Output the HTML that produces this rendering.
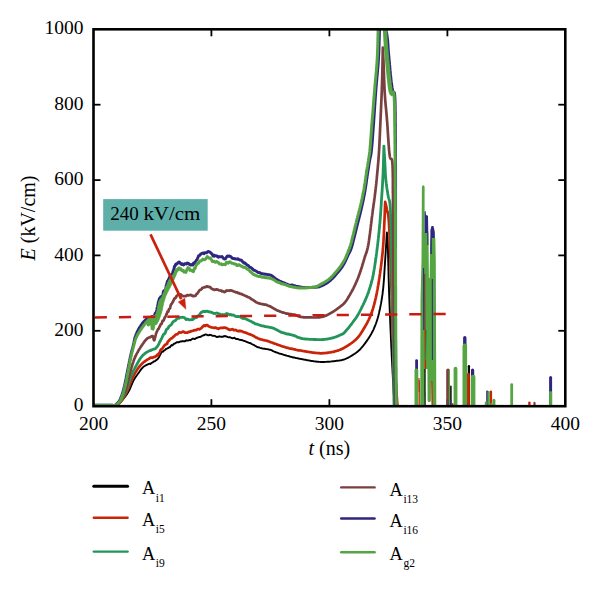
<!DOCTYPE html>
<html><head><meta charset="utf-8"><style>
html,body{margin:0;padding:0;background:#fff;}
svg{display:block;}
text{font-family:"Liberation Serif",serif;fill:#000;}
</style></head><body>
<svg width="600" height="591" viewBox="0 0 600 591">
<rect x="0" y="0" width="600" height="591" fill="#fff"/>
<defs><clipPath id="cp"><rect x="93.5" y="29.3" width="471.79999999999995" height="376.9"/></clipPath></defs>
<g stroke="#000" stroke-width="1.8"><line x1="211.4" y1="406.2" x2="211.4" y2="399.2"/><line x1="211.4" y1="29.3" x2="211.4" y2="36.3"/><line x1="329.4" y1="406.2" x2="329.4" y2="399.2"/><line x1="329.4" y1="29.3" x2="329.4" y2="36.3"/><line x1="447.4" y1="406.2" x2="447.4" y2="399.2"/><line x1="447.4" y1="29.3" x2="447.4" y2="36.3"/><line x1="93.5" y1="330.8" x2="100.5" y2="330.8"/><line x1="565.3" y1="330.8" x2="558.3" y2="330.8"/><line x1="93.5" y1="255.4" x2="100.5" y2="255.4"/><line x1="565.3" y1="255.4" x2="558.3" y2="255.4"/><line x1="93.5" y1="180.1" x2="100.5" y2="180.1"/><line x1="565.3" y1="180.1" x2="558.3" y2="180.1"/><line x1="93.5" y1="104.7" x2="100.5" y2="104.7"/><line x1="565.3" y1="104.7" x2="558.3" y2="104.7"/></g>
<g clip-path="url(#cp)">
<path d="M93.5 405.3L94.1 405.3L94.8 405.3L95.4 405.3L96.1 405.3L96.8 405.3L97.4 405.3L98.1 405.3L98.8 405.3L99.5 405.3L100.2 405.3L100.9 405.3L101.6 405.3L102.3 405.3L103.0 405.3L103.7 405.3L104.3 405.3L105.0 405.3L105.6 405.3L106.3 405.3L106.9 405.3L107.5 405.3L108.1 405.3L108.7 405.3L109.2 405.3L109.8 405.3L110.3 405.3L110.7 405.3L111.2 405.3L111.6 405.3L112.0 405.3L113.5 405.3L114.4 405.4L114.9 405.4L115.2 405.4L115.5 405.4L116.0 405.2L116.5 405.0L117.0 404.8L117.5 404.5L118.0 404.2L118.5 403.8L119.0 403.4L119.5 403.0L120.0 402.5L120.4 402.1L120.8 401.8L121.2 401.3L121.6 400.9L122.0 400.5L122.4 400.0L122.8 399.5L123.3 399.0L123.7 398.5L124.1 398.0L124.5 397.5L124.8 397.1L125.2 396.6L125.5 396.2L125.8 395.7L126.2 395.3L126.5 394.8L126.8 394.3L127.2 393.8L127.5 393.3L127.9 392.7L128.2 392.2L128.5 391.5L128.9 390.9L129.1 390.4L129.4 389.9L129.6 389.4L129.9 388.9L130.1 388.3L130.4 387.7L130.6 387.1L130.9 386.5L131.2 385.9L131.4 385.3L131.7 384.7L131.9 384.1L132.2 383.5L132.4 382.9L132.7 382.3L132.9 381.7L133.2 381.2L133.4 380.7L133.7 380.2L134.0 379.6L134.4 379.0L134.7 378.4L135.1 377.9L135.4 377.3L135.7 376.8L136.1 376.3L136.4 375.9L136.7 375.4L137.1 374.9L137.4 374.5L137.7 374.0L138.1 373.6L138.4 373.1L138.8 372.6L139.2 372.0L139.6 371.5L140.0 370.9L140.4 370.4L140.7 369.9L141.1 369.4L141.5 368.9L141.9 368.4L142.3 368.0L142.7 367.6L143.1 367.2L143.6 366.7L144.2 366.3L144.7 366.0L145.3 365.6L145.8 365.3L146.4 365.0L146.9 364.8L147.4 364.5L147.9 364.3L148.6 364.0L149.2 363.8L149.8 363.6L150.4 364.0L151.0 363.4L151.6 363.0L152.2 362.6L152.8 362.4L153.3 361.7L153.9 361.5L154.5 361.4L155.0 361.1L155.5 360.8L156.0 360.1L156.5 360.0L157.0 359.6L157.5 359.3L158.0 358.5L158.3 358.2L158.6 357.8L158.9 357.3L159.3 356.6L159.6 355.8L159.9 355.2L160.3 354.6L160.6 354.1L160.9 353.3L161.3 352.4L161.6 352.0L162.2 351.8L162.8 351.9L163.3 351.3L163.9 350.6L164.4 350.3L165.0 350.0L165.5 349.5L166.0 349.1L166.4 348.6L166.9 348.6L167.5 348.2L168.2 348.0L168.6 347.6L169.0 347.5L169.5 347.1L170.0 347.2L170.5 346.3L171.0 345.7L171.6 345.1L172.1 345.5L172.7 345.2L173.2 344.6L173.8 343.8L174.3 343.8L174.8 343.4L175.4 343.3L176.0 342.8L176.6 342.4L177.2 342.1L177.8 342.1L178.4 342.4L179.0 342.1L179.6 341.8L180.2 341.5L180.8 341.5L181.4 341.5L182.0 341.2L182.6 341.3L183.2 341.2L183.8 341.4L184.4 341.3L185.0 341.3L185.6 340.6L186.2 340.4L186.8 340.3L187.4 340.6L188.0 340.6L188.6 340.3L189.2 340.3L189.9 339.9L190.5 340.2L191.1 339.7L191.7 339.4L192.4 338.7L193.0 338.6L193.5 338.6L194.1 339.1L194.6 339.1L195.2 338.8L195.8 338.4L196.3 338.1L196.8 337.9L197.3 337.6L197.8 337.5L198.4 337.4L199.0 337.2L199.5 336.9L200.1 337.0L200.6 336.6L201.2 336.6L201.9 336.1L202.5 335.6L203.1 335.5L203.7 335.2L204.4 335.2L205.0 334.5L205.6 334.5L206.2 334.6L206.8 334.7L207.4 335.0L208.0 335.3L208.6 335.4L209.2 335.2L209.8 334.8L210.4 334.9L211.0 334.9L211.6 335.4L212.2 335.6L212.8 335.9L213.4 335.9L214.0 335.8L214.6 335.9L215.3 336.1L215.9 336.6L216.5 336.8L217.1 337.1L217.7 336.8L218.2 336.9L218.8 336.6L219.4 336.3L220.1 336.6L220.6 336.7L221.2 336.8L221.7 336.7L222.3 336.7L223.0 336.8L223.6 336.3L224.4 336.3L224.9 336.0L225.5 336.3L226.1 336.3L226.7 336.7L227.3 336.9L227.9 337.1L228.6 337.3L229.3 337.3L229.9 337.2L230.6 337.5L231.3 337.8L231.9 338.2L232.6 338.4L233.2 338.1L233.8 338.0L234.4 337.7L235.0 338.2L235.5 338.5L236.1 339.1L236.7 338.9L237.3 339.0L237.9 339.0L238.5 339.4L239.1 339.6L239.7 339.8L240.2 339.8L240.8 340.0L241.4 340.0L242.0 340.2L242.6 340.3L243.2 340.7L243.8 340.9L244.3 341.0L244.9 341.2L245.5 341.4L246.1 341.7L246.7 342.0L247.3 342.1L247.9 342.4L248.5 342.7L249.0 342.9L249.6 343.0L250.2 343.0L250.8 343.4L251.4 343.8L251.9 344.1L252.5 344.3L253.0 344.6L253.6 344.8L254.1 345.2L254.7 345.5L255.2 345.9L255.8 346.1L256.3 346.5L256.9 346.8L257.4 347.1L258.0 347.2L258.5 347.4L259.1 347.5L259.6 347.7L260.2 347.9L260.9 348.1L261.5 348.2L262.1 348.4L262.7 348.5L263.4 348.6L264.0 348.7L264.6 348.7L265.3 348.9L265.9 349.0L266.5 349.1L267.1 349.1L267.8 349.2L268.4 349.4L269.0 349.6L269.6 349.7L270.2 349.8L270.7 349.9L271.3 350.1L271.9 350.4L272.5 350.8L273.1 351.1L273.7 351.4L274.3 351.6L274.9 351.8L275.4 352.0L276.0 352.3L276.6 352.5L277.2 352.7L277.8 352.9L278.4 353.1L279.0 353.4L279.5 353.6L280.1 353.7L280.7 353.9L281.3 354.0L281.9 354.2L282.5 354.4L283.1 354.6L283.7 354.7L284.2 355.0L284.8 355.1L285.4 355.3L286.0 355.4L286.6 355.7L287.2 355.9L287.8 355.9L288.3 356.1L288.9 356.2L289.5 356.5L290.1 356.6L290.7 356.8L291.3 356.9L291.9 357.1L292.5 357.2L293.0 357.5L293.6 357.5L294.2 357.5L294.8 357.6L295.4 357.8L296.0 358.0L296.7 358.1L297.3 358.2L297.9 358.3L298.5 358.5L299.1 358.6L299.7 358.7L300.3 358.9L301.0 359.0L301.6 359.1L302.3 359.2L302.9 359.4L303.6 359.5L304.2 359.6L304.8 359.7L305.4 359.8L306.0 359.9L306.6 360.1L307.2 360.2L307.8 360.3L308.4 360.4L309.1 360.5L309.7 360.6L310.3 360.7L311.0 360.9L311.6 361.0L312.2 361.0L312.8 361.1L313.4 361.2L314.0 361.3L314.7 361.4L315.3 361.5L315.9 361.5L316.5 361.6L317.1 361.7L317.7 361.7L318.3 361.8L318.9 361.9L319.5 361.9L320.1 361.9L320.7 362.0L321.4 362.0L322.0 362.0L322.7 362.0L323.4 362.0L324.0 362.0L324.6 362.0L325.2 361.9L325.8 361.9L326.4 361.9L327.0 361.8L327.7 361.8L328.3 361.7L329.0 361.7L329.7 361.6L330.3 361.6L331.0 361.5L331.6 361.4L332.3 361.4L332.9 361.3L333.5 361.2L334.1 361.2L334.7 361.1L335.3 361.0L336.0 360.9L336.6 360.8L337.2 360.8L337.8 360.7L338.4 360.6L339.0 360.6L339.6 360.5L340.2 360.4L340.8 360.3L341.3 360.2L341.9 360.1L342.5 359.9L343.1 359.7L343.7 359.6L344.4 359.3L345.0 359.1L345.5 358.9L346.0 358.7L346.6 358.4L347.1 358.2L347.7 357.9L348.2 357.6L348.8 357.3L349.4 357.0L349.9 356.7L350.5 356.4L351.1 356.0L351.6 355.7L352.2 355.4L352.7 355.0L353.3 354.7L353.8 354.3L354.3 354.0L354.8 353.7L355.3 353.3L355.8 353.0L356.2 352.7L356.8 352.3L357.3 351.8L357.8 351.4L358.3 351.0L358.8 350.6L359.2 350.2L359.7 349.8L360.1 349.3L360.5 348.9L360.9 348.5L361.3 348.0L361.7 347.5L362.1 347.0L362.6 346.5L363.0 346.0L363.4 345.6L363.7 345.1L364.1 344.7L364.4 344.2L364.8 343.7L365.2 343.2L365.5 342.7L365.9 342.2L366.3 341.7L366.6 341.2L367.0 340.7L367.3 340.2L367.7 339.7L368.0 339.1L368.4 338.6L368.7 338.1L369.1 337.6L369.4 337.0L369.7 336.5L370.0 336.0L370.3 335.5L370.6 334.9L370.9 334.4L371.2 333.9L371.5 333.4L371.8 332.8L372.1 332.3L372.4 331.8L372.6 331.2L372.9 330.7L373.2 330.2L373.5 329.6L373.7 329.0L374.0 328.4L374.2 327.9L374.5 327.2L374.7 326.6L375.0 326.0L375.2 325.5L375.4 325.0L375.6 324.5L375.8 324.0L376.0 323.5L376.1 323.0L376.3 322.5L376.5 322.0L376.7 321.4L376.8 320.9L377.0 320.4L377.2 319.8L377.4 319.3L377.5 318.7L377.7 318.1L377.9 317.5L378.0 316.9L378.2 316.3L378.4 315.7L378.5 315.0L378.7 314.3L378.9 313.7L379.0 312.9L379.2 312.2L379.3 311.7L379.4 311.2L379.5 310.7L379.6 310.2L379.7 309.7L379.9 309.2L380.0 308.7L380.1 308.1L380.2 307.6L380.3 307.1L380.4 306.5L380.5 306.0L380.6 305.4L380.7 304.9L380.8 304.3L381.0 303.7L381.1 303.1L381.2 302.5L381.3 301.9L381.4 301.3L381.5 300.7L381.6 300.1L381.7 299.5L381.8 298.9L381.9 298.2L382.0 297.6L382.1 296.9L382.2 296.3L382.3 295.6L382.4 294.9L382.5 294.3L382.6 293.6L382.7 292.9L382.7 292.2L382.8 291.4L382.9 290.7L383.0 290.0L383.1 289.5L383.1 289.0L383.2 288.4L383.2 287.9L383.3 287.3L383.3 286.8L383.4 286.2L383.4 285.6L383.5 285.1L383.5 284.5L383.6 283.9L383.6 283.3L383.7 282.7L383.7 282.1L383.8 281.5L383.8 280.9L383.9 280.2L383.9 279.6L384.0 279.0L384.0 278.4L384.1 277.7L384.1 277.1L384.1 276.5L384.2 275.8L384.2 275.2L384.3 274.5L384.3 273.9L384.3 273.2L384.4 272.6L384.4 272.0L384.5 271.3L384.5 270.7L384.5 270.0L384.6 269.4L384.6 268.8L384.7 268.1L384.7 267.5L384.7 266.9L384.8 266.2L384.8 265.6L384.9 265.0L384.9 264.4L384.9 263.8L385.0 263.2L385.0 262.6L385.0 262.0L385.1 261.4L385.1 260.8L385.2 260.2L385.2 259.7L385.2 259.1L385.3 258.5L385.3 258.0L385.3 257.3L385.4 256.6L385.4 256.0L385.5 255.3L385.5 254.7L385.6 254.0L385.6 253.4L385.6 252.7L385.7 252.1L385.7 251.5L385.8 250.8L385.8 250.2L385.8 249.6L385.9 249.0L385.9 248.4L386.0 247.8L386.0 247.2L386.0 246.6L386.1 246.0L386.1 245.4L386.1 244.8L386.2 244.2L386.2 243.6L386.3 243.0L386.3 242.4L386.3 241.9L386.4 241.3L386.4 240.7L386.4 240.1L386.5 239.5L386.5 238.9L386.5 238.4L386.6 237.8L386.6 237.2L386.6 236.6L386.7 236.0L386.7 235.4L386.8 234.8L386.8 234.2L386.8 233.6L386.9 233.0L386.9 232.4L386.9 232.4L386.9 233.0L387.0 233.5L387.0 233.9L387.1 234.3L387.1 234.7L387.1 235.1L387.2 235.4L387.2 235.7L387.3 236.1L387.3 236.5L387.4 236.9L387.4 237.3L387.4 237.8L387.5 238.4L387.5 239.0L387.6 239.8L387.6 240.6L387.7 241.5L387.7 242.5L387.8 243.7L387.8 245.0L387.8 245.4L387.8 245.8L387.8 246.2L387.9 246.6L387.9 247.0L387.9 247.5L387.9 247.9L387.9 248.4L387.9 248.9L387.9 249.3L388.0 249.8L388.0 250.3L388.0 250.8L388.0 251.3L388.0 251.8L388.0 252.4L388.0 252.9L388.0 253.4L388.1 254.0L388.1 254.5L388.1 255.1L388.1 255.7L388.1 256.2L388.1 256.8L388.1 257.4L388.2 258.0L388.2 258.6L388.2 259.2L388.2 259.8L388.2 260.4L388.2 261.0L388.2 261.7L388.3 262.3L388.3 262.9L388.3 263.6L388.3 264.2L388.3 264.8L388.3 265.5L388.4 266.1L388.4 266.8L388.4 267.4L388.4 268.1L388.4 268.8L388.4 269.4L388.4 270.1L388.5 270.8L388.5 271.4L388.5 272.1L388.5 272.8L388.5 273.4L388.5 274.1L388.6 274.8L388.6 275.4L388.6 276.1L388.6 276.8L388.6 277.5L388.6 278.1L388.7 278.8L388.7 279.5L388.7 280.2L388.7 280.8L388.7 281.5L388.8 282.2L388.8 282.8L388.8 283.5L388.8 284.2L388.8 284.8L388.9 285.5L388.9 286.1L388.9 286.8L388.9 287.4L388.9 288.1L389.0 288.7L389.0 289.4L389.0 290.0L389.0 290.6L389.0 291.2L389.1 291.7L389.1 292.3L389.1 292.9L389.1 293.5L389.1 294.1L389.2 294.7L389.2 295.3L389.2 295.9L389.2 296.5L389.2 297.1L389.3 297.7L389.3 298.3L389.3 298.9L389.3 299.5L389.4 300.1L389.4 300.7L389.4 301.3L389.4 301.9L389.4 302.5L389.5 303.2L389.5 303.8L389.5 304.4L389.5 305.0L389.6 305.6L389.6 306.3L389.6 306.9L389.6 307.5L389.7 308.1L389.7 308.7L389.7 309.4L389.7 310.0L389.8 310.6L389.8 311.2L389.8 311.9L389.8 312.5L389.9 313.1L389.9 313.7L389.9 314.4L389.9 315.0L390.0 315.6L390.0 316.2L390.0 316.9L390.0 317.5L390.1 318.1L390.1 318.7L390.1 319.4L390.1 320.0L390.2 320.6L390.2 321.2L390.2 321.8L390.2 322.5L390.3 323.1L390.3 323.7L390.3 324.3L390.3 324.9L390.4 325.5L390.4 326.1L390.4 326.7L390.4 327.3L390.5 327.9L390.5 328.5L390.5 329.1L390.6 329.7L390.6 330.3L390.6 330.9L390.6 331.5L390.7 332.1L390.7 332.7L390.7 333.3L390.7 333.8L390.8 334.4L390.8 335.0L390.8 335.6L390.8 336.1L390.9 336.7L390.9 337.2L390.9 337.8L390.9 338.4L391.0 338.9L391.0 339.5L391.0 340.0L391.0 340.7L391.1 341.4L391.1 342.0L391.1 342.7L391.2 343.4L391.2 344.1L391.2 344.7L391.2 345.4L391.3 346.1L391.3 346.7L391.3 347.4L391.4 348.1L391.4 348.7L391.4 349.4L391.5 350.1L391.5 350.7L391.5 351.4L391.6 352.0L391.6 352.7L391.6 353.3L391.7 354.0L391.7 354.6L391.7 355.3L391.7 355.9L391.8 356.5L391.8 357.2L391.8 357.8L391.9 358.4L391.9 359.1L391.9 359.7L392.0 360.3L392.0 360.9L392.0 361.5L392.1 362.2L392.1 362.8L392.1 363.4L392.2 364.0L392.2 364.6L392.2 365.2L392.2 365.8L392.3 366.4L392.3 367.0L392.3 367.5L392.4 368.1L392.4 368.7L392.4 369.3L392.5 369.9L392.5 370.4L392.5 371.0L392.5 371.5L392.6 372.1L392.6 372.7L392.6 373.2L392.7 373.8L392.7 374.3L392.7 374.8L392.8 375.4L392.8 375.9L392.8 376.4L392.8 377.0L392.9 377.5L392.9 378.0L392.9 378.5L392.9 379.0L393.0 379.5L393.0 380.0L393.0 380.8L393.1 381.5L393.1 382.3L393.2 383.0L393.2 383.7L393.2 384.4L393.3 385.1L393.3 385.7L393.4 386.4L393.4 387.0L393.4 387.7L393.5 388.3L393.5 388.9L393.5 389.5L393.6 390.1L393.6 390.7L393.6 391.3L393.7 391.9L393.7 392.4L393.7 393.0L393.8 393.6L393.8 394.1L393.8 394.7L393.9 395.2L393.9 395.8L394.0 396.3L394.0 396.9L394.0 397.4L394.1 398.0L394.1 398.5L394.1 399.0L394.2 399.6L394.2 400.1L394.2 400.7L394.3 401.3L394.3 401.8L394.3 402.4L394.4 403.0L394.4 403.5L394.4 404.1L394.5 404.7L394.5 405.3" stroke="#000000" stroke-width="1.9" fill="none" stroke-linejoin="round"/>
<path d="M450.15 407 L450.15 386.25 A0.75 0.75 0 0 1 451.65 386.25 L451.65 407 Z" fill="#000000"/>
<path d="M467.75 407 L467.75 366.15 A1.15 1.15 0 0 1 470.05 366.15 L470.05 407 Z" fill="#000000"/>
<path d="M93.5 405.3L94.1 405.3L94.7 405.3L95.4 405.3L96.0 405.3L96.7 405.3L97.4 405.3L98.1 405.3L98.7 405.3L99.4 405.3L100.1 405.3L100.8 405.3L101.5 405.3L102.2 405.3L102.9 405.3L103.5 405.3L104.2 405.3L104.9 405.3L105.5 405.3L106.2 405.3L106.8 405.3L107.4 405.3L108.1 405.3L108.6 405.3L109.2 405.3L109.8 405.3L110.3 405.3L110.8 405.3L111.3 405.3L111.8 405.3L112.2 405.3L112.6 405.3L113.0 405.3L114.6 405.3L115.5 405.3L116.0 405.4L116.2 405.3L116.5 405.2L117.0 405.0L117.5 404.7L118.0 404.4L118.5 404.0L119.0 403.6L119.5 403.1L120.0 402.6L120.5 402.1L121.0 401.5L121.4 401.0L121.7 400.5L122.1 400.0L122.4 399.5L122.8 398.9L123.1 398.4L123.5 397.8L123.8 397.2L124.2 396.6L124.5 396.0L124.8 395.5L125.1 395.0L125.4 394.5L125.7 394.0L125.9 393.5L126.2 393.0L126.5 392.4L126.8 391.8L127.1 391.2L127.4 390.5L127.8 389.7L128.0 389.3L128.2 388.8L128.4 388.3L128.6 387.7L128.8 387.2L129.0 386.6L129.3 386.0L129.5 385.4L129.7 384.8L129.9 384.2L130.2 383.6L130.4 383.0L130.6 382.4L130.9 381.8L131.1 381.2L131.4 380.6L131.6 380.0L131.8 379.5L132.0 378.9L132.3 378.4L132.5 377.9L132.8 377.2L133.1 376.6L133.4 376.0L133.8 375.4L134.1 374.8L134.4 374.2L134.7 373.7L135.0 373.1L135.3 372.6L135.6 372.1L135.9 371.5L136.3 371.1L136.6 370.6L136.9 370.1L137.2 369.6L137.6 369.0L138.0 368.5L138.4 367.9L138.8 367.4L139.2 366.9L139.6 366.4L140.0 365.9L140.4 365.4L140.8 365.0L141.2 364.5L141.6 364.1L142.0 363.7L142.5 363.2L143.1 362.7L143.6 362.3L144.2 361.8L144.7 361.5L145.2 361.1L145.8 360.7L146.2 360.4L146.7 360.1L147.3 359.7L147.8 359.4L148.3 359.1L148.8 358.8L149.4 358.6L150.0 357.8L150.6 357.7L151.2 357.7L151.9 357.5L152.6 357.8L153.3 357.1L153.9 357.1L154.5 356.9L155.0 357.0L155.7 356.3L156.1 356.1L156.6 355.5L157.2 354.7L157.5 355.1L157.8 355.2L158.1 355.5L158.4 354.3L158.8 353.7L159.2 352.9L159.5 352.5L159.9 351.8L160.3 351.0L160.6 349.9L161.0 349.5L161.3 349.2L161.6 349.4L162.1 348.6L162.5 348.4L163.0 347.6L163.3 347.0L163.7 346.4L164.2 345.9L164.6 345.4L165.0 344.8L165.3 344.7L165.6 344.5L166.0 344.1L166.4 344.3L166.8 344.0L167.2 343.7L167.7 341.9L168.2 341.3L168.6 340.8L169.0 340.7L169.4 340.0L169.9 339.5L170.3 339.1L170.8 338.7L171.3 338.4L171.8 338.3L172.3 338.0L172.8 337.3L173.3 336.7L173.8 336.4L174.3 336.2L174.8 335.5L175.4 334.9L175.9 334.4L176.5 334.5L177.0 334.4L177.6 334.1L178.1 333.5L178.7 332.8L179.2 332.2L179.8 332.5L180.3 332.5L180.9 332.7L181.4 332.4L182.0 332.2L182.6 331.8L183.2 331.5L183.8 331.7L184.4 332.3L185.0 332.7L185.6 332.6L186.2 332.5L186.8 332.6L187.4 332.6L188.0 332.4L188.6 331.8L189.2 331.9L189.9 331.7L190.5 331.6L191.1 331.1L191.7 331.0L192.4 330.9L193.0 330.8L193.5 330.6L194.1 330.4L194.6 330.1L195.3 330.2L196.0 330.2L196.5 330.0L197.1 329.5L197.6 329.0L198.3 329.2L199.0 329.0L199.5 329.3L200.0 329.0L200.5 328.7L201.0 328.4L201.6 327.9L202.2 327.3L202.7 326.6L203.3 326.1L203.9 325.5L204.5 325.8L205.0 325.4L205.6 325.8L206.2 325.1L206.8 325.1L207.4 325.2L208.0 325.6L208.6 326.2L209.2 326.5L209.8 326.7L210.4 327.0L211.0 327.2L211.6 327.5L212.2 327.5L212.8 327.6L213.4 327.8L214.0 328.0L214.6 327.5L215.3 327.5L215.9 327.6L216.5 328.2L217.1 328.3L217.7 328.6L218.2 328.7L218.8 328.8L219.4 328.3L220.1 328.1L220.6 327.9L221.2 327.8L221.7 327.9L222.3 327.8L223.0 328.0L223.6 327.7L224.4 327.6L224.9 327.6L225.5 327.8L226.1 328.1L226.7 328.2L227.3 328.5L227.9 328.9L228.6 329.5L229.3 329.8L229.9 329.7L230.6 329.8L231.3 329.5L231.9 329.3L232.6 329.2L233.2 329.6L233.8 330.1L234.5 330.2L235.1 330.0L235.7 329.9L236.3 330.2L237.0 330.8L237.6 331.0L238.2 331.2L238.9 330.9L239.5 331.1L240.1 330.9L240.7 331.1L241.4 331.2L242.0 331.3L242.6 331.6L243.2 332.0L243.8 332.3L244.3 332.4L244.9 332.4L245.5 332.5L246.1 332.9L246.7 333.1L247.3 333.3L247.9 333.6L248.5 333.9L249.0 334.2L249.6 334.2L250.2 334.4L250.8 334.6L251.4 334.9L251.9 335.2L252.5 335.4L253.0 335.7L253.6 336.1L254.1 336.3L254.7 336.6L255.2 337.0L255.8 337.4L256.3 337.6L256.9 337.7L257.4 338.0L258.0 338.4L258.5 338.7L259.1 338.8L259.6 339.0L260.2 339.3L260.8 339.4L261.4 339.5L261.9 339.6L262.5 339.9L263.1 340.0L263.7 340.2L264.3 340.2L264.9 340.4L265.5 340.5L266.1 340.6L266.6 340.7L267.2 340.9L267.8 341.1L268.4 341.3L269.0 341.5L269.6 341.7L270.2 342.0L270.7 342.2L271.3 342.4L271.9 342.5L272.5 342.7L273.1 343.0L273.7 343.3L274.3 343.6L274.9 343.7L275.4 343.8L276.0 344.0L276.6 344.2L277.2 344.6L277.8 344.8L278.4 345.0L279.0 345.1L279.5 345.2L280.1 345.5L280.7 345.7L281.3 346.0L281.9 346.2L282.5 346.4L283.1 346.5L283.7 346.7L284.2 346.8L284.8 347.1L285.4 347.3L286.0 347.5L286.6 347.6L287.2 347.8L287.8 347.8L288.3 348.0L288.9 348.3L289.5 348.5L290.1 348.6L290.7 348.6L291.3 348.7L291.9 348.8L292.5 348.9L293.0 349.1L293.6 349.2L294.2 349.3L294.8 349.4L295.4 349.6L296.0 349.8L296.7 350.0L297.3 350.1L297.9 350.3L298.5 350.4L299.1 350.4L299.7 350.4L300.3 350.5L301.0 350.6L301.6 350.7L302.3 350.9L302.9 351.0L303.6 351.1L304.2 351.2L304.8 351.3L305.4 351.4L306.0 351.5L306.6 351.6L307.2 351.7L307.8 351.8L308.4 351.9L309.1 352.0L309.7 352.1L310.3 352.2L311.0 352.3L311.6 352.4L312.2 352.5L312.8 352.6L313.4 352.6L314.0 352.7L314.7 352.8L315.3 352.8L315.9 352.9L316.5 353.0L317.1 353.0L317.7 353.1L318.3 353.1L318.9 353.2L319.5 353.2L320.1 353.3L320.7 353.3L321.4 353.3L322.0 353.3L322.7 353.2L323.4 353.2L323.9 353.2L324.5 353.1L325.1 353.1L325.7 353.0L326.3 352.9L326.9 352.9L327.5 352.8L328.1 352.7L328.7 352.6L329.3 352.5L330.0 352.4L330.6 352.3L331.2 352.2L331.8 352.1L332.4 352.0L333.0 351.9L333.6 351.7L334.2 351.6L334.8 351.4L335.3 351.3L335.9 351.1L336.5 351.0L337.1 350.8L337.7 350.6L338.3 350.4L338.8 350.2L339.4 350.0L339.9 349.8L340.5 349.6L341.0 349.3L341.6 349.1L342.1 348.8L342.7 348.6L343.2 348.3L343.8 348.0L344.4 347.6L345.0 347.3L345.5 347.0L345.9 346.7L346.4 346.5L346.9 346.1L347.4 345.8L347.9 345.5L348.4 345.2L349.0 344.8L349.5 344.5L350.0 344.1L350.5 343.8L351.0 343.4L351.6 343.0L352.1 342.6L352.6 342.3L353.1 341.9L353.6 341.5L354.0 341.1L354.5 340.7L354.9 340.3L355.4 340.0L355.8 339.6L356.2 339.2L356.7 338.7L357.1 338.3L357.5 337.8L357.9 337.4L358.3 336.9L358.7 336.5L359.0 336.0L359.4 335.6L359.7 335.1L360.0 334.6L360.4 334.2L360.7 333.7L361.0 333.2L361.3 332.7L361.7 332.2L362.0 331.6L362.3 331.1L362.7 330.6L363.0 330.0L363.3 329.5L363.6 329.0L363.9 328.5L364.2 328.0L364.5 327.5L364.8 327.0L365.1 326.5L365.4 325.9L365.7 325.4L366.0 324.8L366.4 324.3L366.7 323.7L367.0 323.2L367.3 322.6L367.6 322.1L367.8 321.5L368.1 320.9L368.4 320.4L368.7 319.8L368.9 319.3L369.2 318.7L369.5 318.1L369.7 317.6L369.9 317.0L370.2 316.5L370.4 315.9L370.6 315.3L370.9 314.8L371.1 314.2L371.3 313.7L371.5 313.1L371.7 312.6L371.9 312.0L372.1 311.4L372.2 310.9L372.4 310.3L372.6 309.7L372.8 309.2L373.0 308.6L373.1 308.0L373.3 307.4L373.5 306.8L373.7 306.2L373.8 305.6L374.0 305.0L374.2 304.5L374.3 303.9L374.4 303.4L374.6 302.8L374.7 302.3L374.9 301.7L375.0 301.2L375.1 300.6L375.3 300.1L375.4 299.5L375.5 299.0L375.7 298.4L375.8 297.8L375.9 297.3L376.0 296.7L376.2 296.1L376.3 295.5L376.4 294.9L376.5 294.3L376.7 293.6L376.8 293.0L376.9 292.3L377.0 291.7L377.2 291.0L377.3 290.3L377.4 289.8L377.5 289.3L377.6 288.7L377.7 288.2L377.8 287.6L377.9 287.1L378.0 286.5L378.1 285.9L378.2 285.4L378.3 284.8L378.4 284.2L378.5 283.6L378.6 283.0L378.7 282.4L378.8 281.8L378.9 281.2L379.0 280.6L379.0 280.0L379.1 279.4L379.2 278.8L379.3 278.1L379.4 277.5L379.5 276.9L379.6 276.3L379.7 275.6L379.8 275.0L379.9 274.4L380.0 273.8L380.1 273.1L380.2 272.5L380.2 271.9L380.3 271.2L380.4 270.6L380.5 270.0L380.6 269.4L380.7 268.8L380.7 268.2L380.8 267.7L380.9 267.1L381.0 266.5L381.0 265.9L381.1 265.3L381.2 264.7L381.3 264.1L381.4 263.5L381.4 262.9L381.5 262.3L381.6 261.8L381.6 261.2L381.7 260.6L381.8 260.0L381.9 259.4L381.9 258.8L382.0 258.1L382.1 257.5L382.1 256.9L382.2 256.3L382.3 255.7L382.3 255.1L382.4 254.4L382.5 253.8L382.5 253.2L382.6 252.6L382.7 251.9L382.7 251.3L382.8 250.6L382.8 250.0L382.9 249.3L382.9 248.7L383.0 248.0L383.0 247.4L383.1 246.9L383.1 246.3L383.2 245.7L383.2 245.1L383.3 244.5L383.3 243.9L383.3 243.3L383.4 242.7L383.4 242.1L383.5 241.5L383.5 240.9L383.5 240.2L383.6 239.6L383.6 239.0L383.6 238.4L383.7 237.7L383.7 237.1L383.7 236.5L383.8 235.8L383.8 235.2L383.8 234.6L383.9 233.9L383.9 233.3L383.9 232.7L383.9 232.0L384.0 231.4L384.0 230.8L384.0 230.2L384.1 229.6L384.1 228.9L384.1 228.3L384.1 227.7L384.2 227.1L384.2 226.5L384.2 225.9L384.2 225.4L384.3 224.8L384.3 224.2L384.3 223.6L384.3 223.1L384.4 222.5L384.4 222.0L384.4 221.3L384.5 220.6L384.5 220.0L384.5 219.3L384.6 218.6L384.6 218.0L384.6 217.3L384.6 216.7L384.7 216.1L384.7 215.5L384.7 214.9L384.7 214.3L384.8 213.7L384.8 213.1L384.8 212.5L384.8 211.9L384.8 211.3L384.9 210.7L384.9 210.1L384.9 209.5L384.9 209.0L385.0 208.4L385.0 207.8L385.0 207.2L385.0 206.6L385.0 206.1L385.1 205.5L385.1 204.9L385.1 204.3L385.1 203.7L385.2 203.1L385.2 202.5L385.2 201.9L385.2 201.9L385.3 202.5L385.5 203.1L385.6 203.6L385.7 204.2L385.9 204.7L386.0 205.3L386.2 205.9L386.3 206.5L386.4 207.1L386.6 207.7L386.7 208.4L386.9 209.2L387.0 210.0L387.1 210.4L387.2 210.8L387.2 211.2L387.3 211.4L387.4 211.7L387.5 211.9L387.6 212.2L387.7 212.4L387.7 212.6L387.8 212.9L387.9 213.2L388.0 213.6L388.1 214.0L388.2 214.5L388.3 215.1L388.3 215.7L388.4 216.5L388.5 217.4L388.6 218.4L388.7 219.6L388.8 220.9L388.9 222.4L389.0 224.0L389.0 224.4L389.0 224.7L389.1 225.1L389.1 225.5L389.1 225.9L389.1 226.4L389.1 226.8L389.2 227.2L389.2 227.7L389.2 228.1L389.2 228.6L389.3 229.1L389.3 229.6L389.3 230.1L389.3 230.6L389.4 231.1L389.4 231.6L389.4 232.1L389.4 232.6L389.4 233.2L389.5 233.7L389.5 234.3L389.5 234.8L389.5 235.4L389.6 236.0L389.6 236.6L389.6 237.2L389.6 237.8L389.7 238.3L389.7 239.0L389.7 239.6L389.7 240.2L389.8 240.8L389.8 241.4L389.8 242.1L389.8 242.7L389.9 243.3L389.9 244.0L389.9 244.6L389.9 245.3L390.0 245.9L390.0 246.6L390.0 247.2L390.0 247.9L390.1 248.6L390.1 249.2L390.1 249.9L390.1 250.6L390.2 251.3L390.2 251.9L390.2 252.6L390.2 253.3L390.3 254.0L390.3 254.7L390.3 255.4L390.3 256.1L390.4 256.8L390.4 257.4L390.4 258.1L390.4 258.8L390.5 259.5L390.5 260.2L390.5 260.9L390.5 261.6L390.6 262.3L390.6 263.0L390.6 263.7L390.6 264.4L390.7 265.0L390.7 265.7L390.7 266.4L390.7 267.1L390.8 267.8L390.8 268.5L390.8 269.1L390.8 269.8L390.8 270.5L390.9 271.1L390.9 271.8L390.9 272.5L390.9 273.1L391.0 273.8L391.0 274.4L391.0 275.1L391.0 275.7L391.0 276.4L391.1 277.0L391.1 277.6L391.1 278.3L391.1 278.9L391.2 279.5L391.2 280.1L391.2 280.7L391.2 281.3L391.2 281.9L391.3 282.5L391.3 283.1L391.3 283.6L391.3 284.2L391.3 284.8L391.3 285.3L391.4 285.9L391.4 286.4L391.4 287.0L391.4 287.5L391.4 288.0L391.5 288.5L391.5 289.0L391.5 289.5L391.5 290.0L391.5 290.8L391.6 291.6L391.6 292.4L391.6 293.1L391.6 293.9L391.6 294.6L391.7 295.3L391.7 296.1L391.7 296.8L391.7 297.5L391.7 298.2L391.8 298.9L391.8 299.5L391.8 300.2L391.8 300.9L391.8 301.5L391.8 302.1L391.8 302.8L391.9 303.4L391.9 304.0L391.9 304.7L391.9 305.3L391.9 305.9L391.9 306.5L391.9 307.1L391.9 307.6L391.9 308.2L392.0 308.8L392.0 309.4L392.0 309.9L392.0 310.5L392.0 311.1L392.0 311.6L392.0 312.2L392.0 312.7L392.0 313.3L392.0 313.8L392.0 314.4L392.1 314.9L392.1 315.5L392.1 316.0L392.1 316.5L392.1 317.1L392.1 317.6L392.1 318.2L392.1 318.7L392.1 319.3L392.2 319.8L392.2 320.3L392.2 320.9L392.2 321.4L392.2 322.0L392.2 322.5L392.2 323.1L392.3 323.6L392.3 324.2L392.3 324.8L392.3 325.3L392.3 325.9L392.4 326.5L392.4 327.0L392.4 327.6L392.4 328.2L392.4 328.8L392.5 329.4L392.5 330.0L392.5 330.6L392.6 331.2L392.6 331.8L392.6 332.4L392.6 333.1L392.7 333.7L392.7 334.3L392.7 334.9L392.8 335.5L392.8 336.2L392.8 336.8L392.9 337.4L392.9 338.0L392.9 338.7L393.0 339.3L393.0 339.9L393.0 340.5L393.1 341.2L393.1 341.8L393.2 342.4L393.2 343.1L393.2 343.7L393.3 344.3L393.3 345.0L393.4 345.6L393.4 346.2L393.4 346.9L393.5 347.5L393.5 348.1L393.6 348.7L393.6 349.4L393.6 350.0L393.7 350.6L393.7 351.2L393.8 351.9L393.8 352.5L393.9 353.1L393.9 353.7L393.9 354.4L394.0 355.0L394.0 355.6L394.1 356.2L394.1 356.8L394.1 357.4L394.2 358.0L394.2 358.6L394.3 359.2L394.3 359.8L394.4 360.4L394.4 361.0L394.4 361.6L394.5 362.2L394.5 362.8L394.6 363.3L394.6 363.9L394.6 364.5L394.7 365.1L394.7 365.6L394.7 366.2L394.8 366.7L394.8 367.3L394.9 367.8L394.9 368.4L394.9 368.9L395.0 369.5L395.0 370.0L395.0 370.7L395.1 371.4L395.1 372.1L395.2 372.8L395.2 373.5L395.3 374.2L395.3 374.9L395.4 375.6L395.4 376.3L395.5 377.0L395.5 377.7L395.5 378.4L395.6 379.1L395.6 379.8L395.7 380.5L395.7 381.2L395.8 381.9L395.8 382.6L395.9 383.2L395.9 383.9L396.0 384.6L396.0 385.2L396.0 385.9L396.1 386.5L396.1 387.2L396.2 387.8L396.2 388.4L396.3 389.0L396.3 389.7L396.3 390.3L396.4 390.9L396.4 391.4L396.5 392.0L396.5 392.6L396.5 393.1L396.6 393.7L396.6 394.2L396.6 394.7L396.7 395.2L396.7 395.7L396.7 396.2L396.8 396.7L396.8 397.2L396.8 397.6L396.9 398.0L396.9 398.5L396.9 398.9L396.9 399.3L397.0 399.6L397.0 400.0L397.1 401.8L397.2 403.1L397.3 403.8L397.3 404.2L397.4 404.4L397.4 404.6L397.4 404.8L397.5 405.3" stroke="#c92408" stroke-width="2.7" fill="none" stroke-linejoin="round"/>
<path d="M451.70 407 L451.70 403.90 A0.90 0.90 0 0 1 453.50 403.90 L453.50 407 Z" fill="#c92408"/>
<path d="M466.90 407 L466.90 374.20 A1.50 1.50 0 0 1 469.90 374.20 L469.90 407 Z" fill="#c92408"/>
<path d="M489.70 407 L489.70 391.80 A1.20 1.20 0 0 1 492.10 391.80 L492.10 407 Z" fill="#c92408"/>
<path d="M528.20 407 L528.20 402.60 A1.20 1.20 0 0 1 530.60 402.60 L530.60 407 Z" fill="#c92408"/>
<path d="M418.55 407 L418.55 380.65 A0.65 0.65 0 0 1 419.85 380.65 L419.85 407 Z" fill="#c92408"/>
<path d="M93.5 405.3L94.1 405.3L94.8 405.3L95.4 405.3L96.1 405.3L96.7 405.3L97.4 405.3L98.1 405.3L98.8 405.3L99.5 405.3L100.2 405.3L100.9 405.3L101.5 405.3L102.2 405.3L102.9 405.3L103.6 405.3L104.3 405.3L104.9 405.3L105.6 405.3L106.2 405.3L106.9 405.3L107.5 405.3L108.1 405.3L108.7 405.3L109.2 405.3L109.8 405.3L110.3 405.3L110.8 405.3L111.3 405.3L111.7 405.3L112.1 405.3L112.5 405.3L114.0 405.3L114.9 405.4L115.4 405.4L115.7 405.4L116.0 405.3L116.5 405.0L116.9 404.7L117.4 404.4L117.9 404.0L118.3 403.5L118.8 403.0L119.2 402.5L119.7 402.0L120.1 401.5L120.5 401.0L120.9 400.5L121.2 400.0L121.6 399.5L121.9 398.9L122.2 398.4L122.5 397.8L122.8 397.2L123.2 396.6L123.5 396.0L123.8 395.5L124.0 395.0L124.3 394.6L124.6 394.1L124.8 393.7L125.1 393.2L125.4 392.6L125.6 392.0L125.9 391.3L126.3 390.6L126.6 389.7L126.8 389.3L126.9 388.8L127.1 388.3L127.3 387.7L127.5 387.2L127.7 386.6L127.9 386.0L128.0 385.4L128.2 384.7L128.4 384.1L128.6 383.5L128.9 382.8L129.1 382.1L129.3 381.5L129.5 380.8L129.7 380.2L129.9 379.5L130.1 378.9L130.3 378.3L130.5 377.7L130.7 377.1L130.9 376.5L131.1 376.0L131.3 375.5L131.6 374.8L131.9 374.2L132.1 373.5L132.4 372.9L132.7 372.3L133.0 371.7L133.2 371.2L133.5 370.6L133.8 370.1L134.1 369.6L134.3 369.1L134.6 368.6L134.9 368.0L135.2 367.5L135.4 367.0L135.7 366.5L136.0 366.0L136.3 365.4L136.6 364.8L137.0 364.2L137.3 363.6L137.6 363.0L137.9 362.5L138.2 361.9L138.6 361.3L138.9 360.8L139.2 360.2L139.5 359.7L139.8 359.2L140.2 358.7L140.5 358.2L140.8 357.8L141.2 357.2L141.7 356.7L142.1 356.2L142.5 355.7L143.0 355.3L143.4 354.8L143.8 354.4L144.2 354.1L144.7 353.7L145.1 353.3L145.5 353.0L146.1 352.6L146.7 352.2L147.3 351.9L147.8 351.5L148.4 351.3L149.0 351.0L149.5 350.7L150.0 350.4L150.6 350.5L151.3 350.0L151.9 349.9L152.4 349.5L152.9 349.4L153.4 349.2L154.2 349.1L154.8 348.9L155.5 348.6L155.9 348.0L156.3 347.7L156.7 347.0L157.2 346.8L157.6 346.1L158.0 345.4L158.3 344.8L158.6 344.7L158.8 344.0L159.1 343.5L159.4 342.6L159.7 341.9L159.9 341.9L160.2 341.3L160.5 340.7L160.8 339.9L161.1 339.2L161.4 339.0L161.7 338.3L162.0 337.9L162.2 337.2L162.5 336.4L162.8 336.0L163.1 335.2L163.5 334.5L163.8 333.9L164.1 333.9L164.5 333.7L164.8 333.6L165.1 333.0L165.5 332.2L165.8 331.3L166.1 330.3L166.4 329.7L166.8 329.1L167.1 329.0L167.6 328.7L168.2 328.1L168.5 327.5L168.8 326.6L169.2 326.3L169.6 326.0L170.0 325.8L170.4 325.2L170.8 325.0L171.3 324.6L171.7 324.2L172.2 323.2L172.6 322.3L173.1 321.9L173.5 321.5L173.9 321.2L174.4 320.9L174.8 320.8L175.4 320.5L175.9 319.9L176.5 319.3L177.0 318.6L177.6 318.2L178.1 318.2L178.7 317.9L179.2 318.2L179.8 317.6L180.3 317.5L180.9 317.3L181.4 317.3L182.0 317.3L182.6 317.2L183.2 317.3L183.8 317.5L184.4 317.7L185.0 318.5L185.6 318.8L186.2 319.6L186.8 319.0L187.4 319.2L188.0 319.1L188.6 319.6L189.2 319.8L189.9 319.8L190.5 319.7L191.1 319.5L191.7 319.8L192.4 319.7L193.0 319.5L193.5 318.7L194.1 318.4L194.6 317.9L195.2 317.6L195.7 317.7L196.1 317.7L196.6 317.5L197.0 316.7L197.5 316.4L197.9 315.9L198.4 315.6L199.0 315.1L199.5 314.7L200.0 314.2L200.5 313.2L201.0 312.7L201.6 312.1L202.2 312.0L202.7 311.8L203.3 311.3L203.9 311.1L204.5 311.5L205.0 311.5L205.6 311.6L206.2 311.2L206.8 311.1L207.4 311.4L208.0 311.4L208.6 311.9L209.2 311.7L209.8 312.0L210.4 311.9L211.0 312.2L211.6 312.5L212.2 312.4L212.8 313.1L213.4 313.1L214.0 313.5L214.7 313.3L215.3 313.5L215.9 313.1L216.5 313.2L217.1 312.9L217.7 313.5L218.3 313.5L218.8 313.9L219.5 313.8L220.2 314.3L220.9 314.7L221.5 315.0L222.1 314.7L222.8 314.4L223.4 314.8L224.0 315.2L224.6 314.9L225.1 314.5L225.7 313.8L226.2 313.8L226.7 313.5L227.3 313.8L228.0 313.8L228.8 314.5L229.3 314.7L229.8 314.9L230.3 314.5L230.9 314.3L231.4 314.9L232.0 315.1L232.6 315.1L233.3 314.9L233.9 315.3L234.5 315.7L235.1 316.2L235.8 316.3L236.4 316.7L237.0 316.4L237.6 316.5L238.2 316.6L238.8 316.5L239.4 316.7L239.9 316.6L240.5 317.1L241.1 317.0L241.7 317.8L242.3 318.0L242.9 318.5L243.5 318.5L244.1 318.4L244.6 318.2L245.2 318.3L245.8 318.8L246.4 319.3L247.0 319.6L247.5 319.9L248.1 320.0L248.6 320.2L249.2 320.6L249.7 320.9L250.2 321.0L250.8 321.2L251.3 321.5L251.9 322.0L252.5 322.2L253.0 322.6L253.6 322.7L254.1 323.1L254.7 323.4L255.2 323.8L255.8 323.9L256.4 324.1L257.0 324.1L257.5 324.3L258.1 324.5L258.7 324.8L259.3 325.0L259.9 325.2L260.5 325.4L261.1 325.6L261.7 325.8L262.2 325.8L262.8 325.9L263.4 326.0L264.0 326.2L264.6 326.4L265.3 326.7L265.9 326.7L266.5 326.8L267.1 326.8L267.8 326.9L268.4 327.1L269.0 327.1L269.7 327.3L270.3 327.4L270.9 327.6L271.5 327.7L272.2 327.9L272.8 328.0L273.3 328.2L273.9 328.4L274.4 328.7L274.9 329.0L275.5 329.2L276.0 329.5L276.5 329.7L277.1 330.0L277.6 330.3L278.1 330.7L278.7 330.9L279.2 331.2L279.8 331.5L280.4 331.9L281.0 332.1L281.6 332.4L282.2 332.5L282.7 332.7L283.3 332.8L283.9 332.9L284.6 333.1L285.2 333.4L285.8 333.7L286.5 333.9L287.1 334.0L287.7 333.9L288.4 334.0L289.0 334.2L289.6 334.5L290.3 334.6L290.9 334.7L291.5 334.8L292.0 335.1L292.6 335.2L293.3 335.4L293.9 335.5L294.5 335.7L295.1 335.9L295.7 336.2L296.3 336.6L296.9 336.9L297.4 337.1L298.0 337.3L298.6 337.5L299.1 337.7L299.7 337.9L300.3 338.1L300.8 338.2L301.4 338.4L302.0 338.5L302.6 338.7L303.2 338.8L303.7 338.9L304.3 338.9L304.8 339.0L305.4 339.0L306.0 339.1L306.6 339.1L307.2 339.2L307.8 339.2L308.5 339.2L309.2 339.3L310.0 339.3L310.5 339.3L311.1 339.4L311.6 339.4L312.2 339.4L312.8 339.4L313.4 339.5L314.0 339.5L314.7 339.5L315.3 339.5L316.0 339.5L316.6 339.6L317.3 339.6L318.0 339.6L318.6 339.6L319.3 339.6L319.9 339.6L320.5 339.6L321.1 339.6L321.7 339.6L322.3 339.6L322.9 339.5L323.4 339.5L324.1 339.4L324.8 339.4L325.5 339.3L326.1 339.2L326.7 339.1L327.4 339.0L328.0 338.9L328.5 338.8L329.1 338.7L329.7 338.6L330.2 338.5L330.8 338.3L331.3 338.2L331.9 338.1L332.4 337.9L332.9 337.8L333.6 337.6L334.2 337.4L334.9 337.2L335.5 337.0L336.1 336.8L336.7 336.5L337.3 336.3L337.9 336.1L338.4 335.8L339.0 335.6L339.5 335.3L340.0 335.1L340.6 334.8L341.1 334.6L341.6 334.5L342.0 334.3L342.5 334.1L343.0 333.8L343.5 333.4L344.2 332.7L345.0 331.9L345.3 331.6L345.6 331.3L345.9 330.9L346.2 330.5L346.6 330.1L346.9 329.7L347.3 329.2L347.7 328.8L348.1 328.3L348.5 327.8L348.9 327.3L349.3 326.8L349.7 326.3L350.1 325.7L350.5 325.2L351.0 324.7L351.4 324.1L351.8 323.6L352.2 323.0L352.6 322.5L353.0 322.0L353.4 321.4L353.8 320.9L354.2 320.4L354.6 319.9L354.9 319.4L355.3 318.9L355.6 318.5L355.9 318.0L356.2 317.6L356.6 317.0L357.0 316.4L357.4 315.8L357.7 315.2L358.0 314.7L358.4 314.2L358.7 313.6L358.9 313.1L359.2 312.6L359.5 312.1L359.7 311.6L360.0 311.1L360.2 310.6L360.5 310.1L360.7 309.6L361.0 309.1L361.2 308.6L361.5 308.1L361.7 307.5L362.0 307.0L362.3 306.5L362.5 305.9L362.8 305.4L363.1 304.8L363.3 304.3L363.6 303.8L363.8 303.2L364.1 302.7L364.4 302.1L364.6 301.6L364.9 301.0L365.1 300.5L365.4 299.9L365.6 299.4L365.8 298.8L366.1 298.3L366.3 297.7L366.5 297.1L366.8 296.6L367.0 296.0L367.2 295.5L367.4 294.9L367.6 294.3L367.8 293.8L368.0 293.2L368.3 292.7L368.5 292.1L368.7 291.5L368.8 290.9L369.0 290.4L369.2 289.8L369.4 289.2L369.6 288.6L369.8 288.1L370.0 287.5L370.2 286.9L370.3 286.3L370.5 285.7L370.7 285.2L370.8 284.6L371.0 284.0L371.2 283.4L371.3 282.9L371.5 282.3L371.6 281.8L371.7 281.3L371.9 280.8L372.0 280.3L372.1 279.8L372.3 279.2L372.4 278.7L372.5 278.2L372.6 277.6L372.8 277.1L372.9 276.5L373.0 275.9L373.1 275.3L373.3 274.6L373.4 273.9L373.5 273.2L373.7 272.4L373.8 271.6L373.9 271.1L374.0 270.7L374.0 270.2L374.1 269.7L374.2 269.2L374.3 268.6L374.4 268.1L374.5 267.6L374.6 267.0L374.6 266.4L374.7 265.9L374.8 265.3L374.9 264.7L375.0 264.1L375.1 263.5L375.2 262.9L375.3 262.3L375.4 261.7L375.5 261.1L375.5 260.5L375.6 259.8L375.7 259.2L375.8 258.6L375.9 257.9L376.0 257.3L376.1 256.7L376.2 256.0L376.3 255.4L376.3 254.7L376.4 254.1L376.5 253.5L376.6 252.8L376.7 252.2L376.8 251.5L376.9 250.9L376.9 250.3L377.0 249.6L377.1 249.0L377.2 248.4L377.2 247.8L377.3 247.2L377.4 246.7L377.5 246.1L377.5 245.5L377.6 244.9L377.7 244.3L377.8 243.7L377.8 243.0L377.9 242.4L378.0 241.8L378.0 241.2L378.1 240.6L378.2 240.0L378.2 239.4L378.3 238.8L378.4 238.1L378.4 237.5L378.5 236.9L378.6 236.3L378.7 235.7L378.7 235.0L378.8 234.4L378.8 233.8L378.9 233.2L379.0 232.6L379.0 231.9L379.1 231.3L379.2 230.7L379.2 230.1L379.3 229.5L379.3 228.9L379.4 228.2L379.5 227.6L379.5 227.0L379.6 226.4L379.6 225.8L379.7 225.2L379.7 224.6L379.8 224.0L379.9 223.4L379.9 222.8L380.0 222.2L380.0 221.6L380.1 221.0L380.1 220.4L380.2 219.8L380.2 219.2L380.3 218.6L380.3 218.0L380.3 217.4L380.4 216.8L380.4 216.2L380.5 215.6L380.5 215.0L380.6 214.4L380.6 213.8L380.6 213.2L380.7 212.6L380.7 212.0L380.8 211.4L380.8 210.8L380.8 210.2L380.9 209.6L380.9 209.0L381.0 208.4L381.0 207.8L381.0 207.2L381.1 206.6L381.1 206.0L381.2 205.4L381.2 204.8L381.2 204.2L381.3 203.6L381.3 203.0L381.3 202.4L381.4 201.8L381.4 201.2L381.5 200.6L381.5 200.0L381.5 199.4L381.6 198.8L381.6 198.2L381.7 197.6L381.7 197.0L381.7 196.4L381.8 195.8L381.8 195.2L381.9 194.7L381.9 194.1L381.9 193.5L382.0 192.9L382.0 192.3L382.1 191.7L382.1 191.1L382.1 190.5L382.2 189.9L382.2 189.3L382.2 188.7L382.3 188.1L382.3 187.5L382.4 186.9L382.4 186.3L382.4 185.7L382.5 185.1L382.5 184.5L382.5 183.9L382.6 183.2L382.6 182.6L382.6 182.0L382.7 181.4L382.7 180.8L382.7 180.1L382.8 179.5L382.8 178.9L382.8 178.2L382.9 177.6L382.9 177.0L382.9 176.3L383.0 175.7L383.0 175.0L383.0 174.4L383.0 173.9L383.1 173.3L383.1 172.7L383.1 172.2L383.1 171.6L383.2 171.0L383.2 170.4L383.2 169.8L383.2 169.2L383.2 168.6L383.3 168.0L383.3 167.5L383.3 166.9L383.3 166.3L383.3 165.7L383.4 165.1L383.4 164.4L383.4 163.8L383.4 163.2L383.4 162.6L383.5 162.0L383.5 161.4L383.5 160.8L383.5 160.2L383.5 159.6L383.5 159.0L383.6 158.3L383.6 157.7L383.6 157.1L383.6 156.5L383.6 155.9L383.6 155.3L383.7 154.6L383.7 154.0L383.7 153.4L383.7 152.8L383.7 152.2L383.7 151.6L383.8 151.0L383.8 150.4L383.8 149.7L383.8 149.1L383.8 148.5L383.8 147.9L383.9 147.3L383.9 146.7L383.9 146.1L383.9 146.1L383.9 146.7L384.0 147.3L384.0 147.9L384.0 148.6L384.1 149.2L384.1 149.8L384.2 150.5L384.2 151.1L384.2 151.7L384.3 152.4L384.3 153.0L384.3 153.6L384.4 154.3L384.4 154.9L384.5 155.5L384.5 156.2L384.5 156.8L384.6 157.4L384.6 158.0L384.6 158.6L384.7 159.3L384.7 159.9L384.7 160.5L384.8 161.1L384.8 161.6L384.8 162.2L384.9 162.8L384.9 163.4L384.9 163.9L385.0 164.5L385.0 165.0L385.0 165.7L385.1 166.4L385.1 167.1L385.1 167.7L385.2 168.4L385.2 169.0L385.2 169.6L385.2 170.2L385.3 170.8L385.3 171.4L385.3 172.0L385.3 172.6L385.4 173.2L385.4 173.7L385.4 174.3L385.5 174.9L385.5 175.5L385.5 176.1L385.6 176.7L385.6 177.3L385.7 177.9L385.7 178.6L385.8 179.2L385.9 179.8L385.9 180.4L386.0 181.0L386.1 181.6L386.1 182.2L386.2 182.8L386.3 183.5L386.4 184.1L386.5 184.8L386.5 185.4L386.6 186.1L386.7 186.7L386.8 187.3L386.9 188.0L387.0 188.6L387.1 189.3L387.2 189.9L387.3 190.5L387.4 191.1L387.5 191.7L387.6 192.3L387.7 192.9L387.7 193.4L387.8 194.0L387.9 194.5L388.0 195.0L388.1 195.7L388.3 196.4L388.4 197.0L388.5 197.5L388.7 198.0L388.8 198.5L388.9 198.9L389.1 199.4L389.2 199.8L389.3 200.3L389.5 200.8L389.6 201.4L389.7 202.0L389.8 202.7L389.9 203.5L390.0 204.3L390.1 205.3L390.1 205.7L390.2 206.2L390.2 206.6L390.2 207.1L390.3 207.6L390.3 208.1L390.3 208.6L390.4 209.1L390.4 209.7L390.4 210.2L390.4 210.8L390.5 211.3L390.5 211.9L390.5 212.5L390.5 213.1L390.5 213.7L390.6 214.3L390.6 214.9L390.6 215.5L390.6 216.1L390.6 216.7L390.7 217.4L390.7 218.0L390.7 218.7L390.7 219.3L390.7 220.0L390.8 220.6L390.8 221.3L390.8 222.0L390.8 222.6L390.8 223.3L390.8 224.0L390.9 224.6L390.9 225.3L390.9 226.0L390.9 226.7L390.9 227.3L390.9 228.0L391.0 228.7L391.0 229.3L391.0 230.0L391.0 230.5L391.0 231.1L391.0 231.6L391.1 232.1L391.1 232.6L391.1 233.1L391.1 233.6L391.1 234.1L391.1 234.6L391.1 235.1L391.2 235.6L391.2 236.0L391.2 236.5L391.2 237.0L391.2 237.4L391.2 237.9L391.2 238.4L391.2 238.8L391.3 239.3L391.3 239.8L391.3 240.3L391.3 240.8L391.3 241.3L391.3 241.8L391.3 242.3L391.3 242.8L391.4 243.4L391.4 243.9L391.4 244.5L391.4 245.1L391.4 245.7L391.4 246.3L391.4 246.9L391.4 247.5L391.5 248.2L391.5 248.9L391.5 249.6L391.5 250.3L391.5 251.0L391.5 251.8L391.6 252.6L391.6 253.4L391.6 254.2L391.6 255.1L391.6 256.0L391.6 256.9L391.7 257.8L391.7 258.8L391.7 259.8L391.7 260.2L391.7 260.7L391.7 261.1L391.7 261.6L391.7 262.0L391.8 262.5L391.8 262.9L391.8 263.4L391.8 263.9L391.8 264.3L391.8 264.8L391.8 265.3L391.8 265.8L391.8 266.3L391.8 266.8L391.8 267.3L391.9 267.8L391.9 268.3L391.9 268.8L391.9 269.4L391.9 269.9L391.9 270.4L391.9 271.0L391.9 271.5L391.9 272.0L392.0 272.6L392.0 273.1L392.0 273.7L392.0 274.2L392.0 274.8L392.0 275.4L392.0 275.9L392.0 276.5L392.0 277.1L392.1 277.7L392.1 278.3L392.1 278.8L392.1 279.4L392.1 280.0L392.1 280.6L392.1 281.2L392.1 281.8L392.1 282.4L392.2 283.0L392.2 283.6L392.2 284.2L392.2 284.8L392.2 285.5L392.2 286.1L392.2 286.7L392.2 287.3L392.3 287.9L392.3 288.6L392.3 289.2L392.3 289.8L392.3 290.5L392.3 291.1L392.3 291.7L392.3 292.4L392.3 293.0L392.4 293.7L392.4 294.3L392.4 294.9L392.4 295.6L392.4 296.2L392.4 296.9L392.4 297.5L392.4 298.2L392.5 298.8L392.5 299.5L392.5 300.1L392.5 300.8L392.5 301.4L392.5 302.1L392.5 302.8L392.5 303.4L392.6 304.1L392.6 304.7L392.6 305.4L392.6 306.0L392.6 306.7L392.6 307.4L392.6 308.0L392.6 308.7L392.6 309.3L392.7 310.0L392.7 310.7L392.7 311.3L392.7 312.0L392.7 312.6L392.7 313.3L392.7 313.9L392.7 314.6L392.8 315.2L392.8 315.9L392.8 316.6L392.8 317.2L392.8 317.9L392.8 318.5L392.8 319.2L392.8 319.8L392.8 320.5L392.9 321.1L392.9 321.8L392.9 322.4L392.9 323.0L392.9 323.7L392.9 324.3L392.9 325.0L392.9 325.6L392.9 326.2L392.9 326.9L393.0 327.5L393.0 328.1L393.0 328.8L393.0 329.4L393.0 330.0L393.0 330.6L393.0 331.2L393.0 331.7L393.0 332.3L393.0 332.9L393.1 333.5L393.1 334.1L393.1 334.7L393.1 335.3L393.1 335.9L393.1 336.4L393.1 337.0L393.1 337.6L393.1 338.2L393.1 338.8L393.1 339.4L393.2 340.0L393.2 340.6L393.2 341.2L393.2 341.8L393.2 342.4L393.2 342.9L393.2 343.5L393.2 344.1L393.2 344.7L393.2 345.3L393.2 345.9L393.2 346.5L393.3 347.1L393.3 347.7L393.3 348.3L393.3 348.9L393.3 349.5L393.3 350.1L393.3 350.7L393.3 351.3L393.3 351.9L393.3 352.5L393.3 353.1L393.3 353.7L393.4 354.3L393.4 354.9L393.4 355.5L393.4 356.1L393.4 356.7L393.4 357.3L393.4 357.9L393.4 358.5L393.4 359.1L393.4 359.8L393.4 360.4L393.4 361.0L393.4 361.6L393.5 362.2L393.5 362.8L393.5 363.4L393.5 364.0L393.5 364.6L393.5 365.2L393.5 365.8L393.5 366.4L393.5 367.0L393.5 367.6L393.5 368.2L393.5 368.9L393.5 369.5L393.6 370.1L393.6 370.7L393.6 371.3L393.6 371.9L393.6 372.5L393.6 373.1L393.6 373.7L393.6 374.3L393.6 374.9L393.6 375.5L393.6 376.2L393.6 376.8L393.6 377.4L393.7 378.0L393.7 378.6L393.7 379.2L393.7 379.8L393.7 380.4L393.7 381.0L393.7 381.6L393.7 382.2L393.7 382.9L393.7 383.5L393.7 384.1L393.7 384.7L393.7 385.3L393.8 385.9L393.8 386.5L393.8 387.1L393.8 387.7L393.8 388.3L393.8 388.9L393.8 389.6L393.8 390.2L393.8 390.8L393.8 391.4L393.8 392.0L393.8 392.6L393.8 393.2L393.9 393.8L393.9 394.4L393.9 395.0L393.9 395.6L393.9 396.2L393.9 396.8L393.9 397.4L393.9 398.0L393.9 398.7L393.9 399.3L393.9 399.9L393.9 400.5L393.9 401.1L394.0 401.7L394.0 402.3L394.0 402.9L394.0 403.5L394.0 404.1L394.0 404.7L394.0 405.3" stroke="#21955a" stroke-width="2.8" fill="none" stroke-linejoin="round"/>
<path d="M93.5 405.3L94.1 405.3L94.8 405.3L95.4 405.3L96.1 405.3L96.7 405.3L97.4 405.3L98.1 405.3L98.8 405.3L99.5 405.3L100.2 405.3L100.9 405.3L101.6 405.3L102.3 405.3L102.9 405.3L103.6 405.3L104.3 405.4L105.0 405.4L105.6 405.4L106.2 405.4L106.9 405.4L107.5 405.4L108.1 405.4L108.6 405.4L109.2 405.4L109.7 405.3L110.2 405.3L110.7 405.3L111.2 405.3L111.6 405.3L112.0 405.3L113.4 405.3L114.3 405.3L114.9 405.2L115.3 405.2L115.7 405.1L116.0 404.8L116.5 404.5L116.9 404.2L117.4 403.8L117.8 403.3L118.2 402.8L118.7 402.3L119.1 401.7L119.5 401.1L119.9 400.6L120.2 400.0L120.6 399.5L121.0 398.9L121.3 398.4L121.6 397.8L122.0 397.3L122.2 396.7L122.5 396.2L122.8 395.6L123.1 395.0L123.4 394.5L123.7 394.0L124.0 393.6L124.2 393.2L124.5 392.9L124.7 392.5L125.0 392.0L125.3 391.4L125.6 390.6L125.9 389.7L126.0 389.3L126.1 388.8L126.3 388.4L126.4 387.9L126.5 387.4L126.7 386.8L126.8 386.3L126.9 385.7L127.1 385.1L127.2 384.5L127.3 383.9L127.5 383.3L127.6 382.6L127.8 382.0L127.9 381.3L128.0 380.7L128.2 380.0L128.3 379.4L128.5 378.7L128.7 378.0L128.8 377.4L129.0 376.8L129.1 376.1L129.3 375.5L129.5 374.9L129.6 374.3L129.8 373.7L129.9 373.1L130.1 372.5L130.3 371.9L130.5 371.3L130.6 370.7L130.8 370.0L131.0 369.4L131.2 368.8L131.3 368.1L131.5 367.5L131.7 366.9L131.9 366.3L132.1 365.6L132.3 365.0L132.5 364.4L132.6 363.8L132.8 363.3L133.0 362.7L133.2 362.2L133.4 361.6L133.5 361.1L133.7 360.6L133.9 360.1L134.2 359.4L134.4 358.7L134.7 358.1L135.0 357.4L135.2 356.8L135.5 356.3L135.8 355.7L136.0 355.2L136.3 354.6L136.5 354.1L136.8 353.6L137.1 353.1L137.3 352.6L137.6 352.2L137.9 351.7L138.1 351.2L138.4 350.7L138.7 350.1L139.1 349.5L139.4 349.0L139.8 348.4L140.1 347.9L140.5 347.3L140.8 346.8L141.1 346.3L141.5 345.8L141.8 345.3L142.2 344.8L142.5 344.4L142.8 343.9L143.1 343.5L143.6 342.9L144.0 342.2L144.4 341.7L144.8 341.1L145.2 340.6L145.6 340.1L146.0 339.7L146.4 339.3L146.8 338.9L147.4 338.4L147.9 338.1L148.5 337.8L149.0 337.6L149.5 337.4L150.0 337.2L150.8 336.8L151.5 336.3L152.2 336.1L152.8 336.2L153.1 336.6L153.3 337.3L153.5 338.2L153.6 339.0L153.8 339.8L154.0 340.2L154.2 340.3L154.4 340.1L154.5 339.7L154.6 339.3L154.8 338.7L155.0 338.0L155.1 337.3L155.3 336.5L155.5 335.7L155.7 335.0L155.9 334.2L156.2 333.2L156.4 332.7L156.6 332.2L156.9 331.4L157.1 331.3L157.4 330.4L157.7 329.9L158.0 329.1L158.3 329.3L158.6 328.9L158.9 328.2L159.2 327.4L159.5 326.8L159.7 326.6L160.0 325.9L160.3 325.3L160.6 324.4L160.9 324.0L161.2 324.0L161.5 323.9L161.8 323.3L162.1 322.2L162.5 321.0L162.8 321.1L163.1 320.8L163.4 320.7L163.7 320.2L164.0 319.6L164.3 318.8L164.6 317.8L164.8 317.2L165.1 316.9L165.4 316.7L165.7 316.0L165.9 315.5L166.2 314.6L166.5 314.6L166.8 313.8L167.0 313.0L167.3 312.4L167.6 311.5L167.9 311.7L168.1 311.8L168.4 311.5L168.7 310.2L168.9 309.4L169.2 308.8L169.5 308.9L169.7 308.5L170.0 308.4L170.3 307.3L170.5 306.1L170.8 305.0L171.1 304.5L171.3 304.0L171.6 303.9L171.9 303.6L172.1 303.3L172.4 302.5L172.7 301.9L173.1 301.6L173.4 300.7L173.8 300.0L174.1 299.1L174.5 298.8L174.8 298.2L175.2 297.8L175.5 298.0L175.9 297.6L176.2 297.1L176.5 296.0L177.1 295.6L177.7 295.0L178.3 294.8L178.8 294.5L179.4 294.5L180.0 294.4L180.6 294.3L181.1 294.8L181.6 295.3L182.2 295.8L182.8 296.1L183.6 296.2L184.1 296.2L184.6 296.0L185.2 296.2L185.9 296.1L186.5 295.7L187.2 295.2L187.8 295.2L188.5 295.4L189.1 295.2L189.7 295.1L190.2 294.9L190.9 295.1L191.6 295.2L192.2 296.0L192.8 296.1L193.4 295.9L194.0 296.1L194.6 296.0L195.0 296.0L195.4 295.8L195.7 295.5L196.1 294.5L196.5 294.0L196.9 293.8L197.2 293.8L197.6 293.2L198.1 292.3L198.5 292.0L199.0 290.9L199.4 290.5L199.9 289.9L200.4 289.7L200.9 289.6L201.4 289.3L201.9 288.6L202.4 287.9L203.0 287.7L203.5 287.6L204.0 287.4L204.6 287.0L205.1 287.0L205.6 287.1L206.2 286.6L206.8 286.3L207.4 286.3L208.0 286.9L208.6 286.9L209.2 286.9L209.8 286.9L210.4 287.7L211.0 287.9L211.6 288.8L212.2 288.8L212.8 289.4L213.4 289.4L214.0 289.7L214.6 289.9L215.3 289.5L215.9 289.7L216.5 289.4L217.1 289.6L217.7 289.6L218.2 289.8L218.8 290.2L219.5 290.5L220.1 290.5L220.8 290.7L221.4 290.6L222.0 291.4L222.7 291.2L223.3 291.4L223.8 291.5L224.4 292.2L225.1 291.8L225.6 291.4L226.1 290.6L226.7 290.8L227.3 290.5L228.0 290.5L228.8 290.6L229.3 290.8L229.8 290.7L230.3 290.4L230.8 290.3L231.4 290.6L232.0 290.7L232.6 290.9L233.2 291.2L233.9 291.5L234.5 291.7L235.1 291.8L235.8 292.3L236.4 292.3L237.0 292.3L237.6 292.6L238.2 293.1L238.8 293.2L239.3 293.2L239.9 293.7L240.5 293.9L241.0 293.9L241.6 293.8L242.1 294.4L242.7 294.6L243.3 295.0L243.9 295.1L244.5 295.5L245.1 295.7L245.7 295.9L246.4 296.2L246.9 296.5L247.4 296.8L247.9 297.1L248.4 297.1L248.9 297.4L249.4 297.7L249.9 298.0L250.4 298.3L251.0 298.7L251.5 299.3L252.0 299.4L252.6 299.7L253.1 300.0L253.7 300.5L254.2 300.8L254.7 301.2L255.3 301.5L255.8 302.0L256.3 302.3L256.9 302.5L257.4 302.7L258.0 303.0L258.6 303.2L259.3 303.4L259.9 303.6L260.5 303.8L261.1 304.0L261.8 304.1L262.4 304.1L263.0 304.2L263.7 304.4L264.3 304.6L264.9 304.6L265.5 304.7L266.1 304.7L266.7 305.0L267.3 305.3L267.8 305.5L268.4 305.7L269.0 305.9L269.6 306.2L270.2 306.4L270.8 306.8L271.3 307.0L271.9 307.4L272.4 307.8L272.9 308.0L273.5 308.3L274.0 308.6L274.5 309.0L275.1 309.2L275.6 309.5L276.1 309.7L276.7 310.2L277.2 310.4L277.8 310.7L278.4 310.8L279.0 311.1L279.5 311.3L280.1 311.6L280.7 311.8L281.3 312.0L281.9 312.2L282.5 312.4L283.1 312.6L283.7 312.7L284.2 312.8L284.8 313.0L285.4 313.2L286.0 313.4L286.6 313.6L287.3 313.7L287.9 313.7L288.6 313.8L289.2 313.9L289.9 314.0L290.5 314.0L291.2 314.1L291.8 314.4L292.4 314.5L293.1 314.7L293.7 314.6L294.2 314.7L294.8 314.7L295.5 315.0L296.1 315.3L296.7 315.6L297.3 315.9L297.8 316.0L298.4 316.2L298.9 316.4L299.5 316.6L300.1 316.7L300.7 316.9L301.4 317.0L302.0 317.1L302.5 317.2L303.1 317.2L303.7 317.3L304.3 317.3L305.0 317.3L305.6 317.3L306.3 317.4L306.9 317.4L307.5 317.4L308.2 317.4L308.8 317.4L309.4 317.4L310.0 317.4L310.6 317.4L311.3 317.4L311.9 317.5L312.5 317.5L313.2 317.5L313.8 317.5L314.4 317.5L315.0 317.5L315.6 317.5L316.2 317.5L316.8 317.5L317.4 317.4L318.0 317.4L318.7 317.3L319.3 317.3L320.0 317.2L320.6 317.1L321.2 317.0L321.8 316.9L322.4 316.8L323.1 316.6L323.7 316.4L324.3 316.2L325.0 316.0L325.5 315.8L326.1 315.6L326.6 315.3L327.2 315.0L327.8 314.7L328.4 314.4L328.9 314.1L329.5 313.8L330.1 313.5L330.7 313.1L331.2 312.8L331.8 312.5L332.4 312.1L332.9 311.8L333.4 311.5L334.0 311.1L334.5 310.8L335.0 310.4L335.6 310.1L336.1 309.7L336.6 309.3L337.1 308.9L337.7 308.6L338.1 308.2L338.6 307.9L339.1 307.5L339.6 307.1L340.0 306.8L340.5 306.4L341.0 306.0L341.5 305.6L342.0 305.2L342.4 304.9L342.9 304.5L343.3 304.1L343.7 303.7L344.1 303.3L344.6 302.8L345.0 302.3L345.3 301.9L345.7 301.4L346.0 301.0L346.4 300.5L346.7 300.0L347.1 299.5L347.4 298.9L347.7 298.4L348.1 297.8L348.4 297.3L348.7 296.7L349.1 296.1L349.4 295.5L349.8 294.9L350.1 294.4L350.4 293.9L350.6 293.4L350.9 292.9L351.2 292.4L351.5 291.9L351.8 291.3L352.1 290.8L352.4 290.3L352.7 289.7L353.0 289.1L353.3 288.6L353.6 288.0L353.9 287.4L354.1 286.8L354.4 286.2L354.7 285.6L355.0 285.0L355.2 284.5L355.5 284.0L355.7 283.5L355.9 282.9L356.2 282.4L356.4 281.9L356.6 281.3L356.9 280.8L357.1 280.2L357.3 279.7L357.5 279.1L357.8 278.5L358.0 278.0L358.2 277.4L358.5 276.8L358.7 276.2L358.9 275.6L359.1 275.0L359.3 274.4L359.6 273.8L359.8 273.2L360.0 272.6L360.2 272.1L360.4 271.5L360.6 270.9L360.8 270.4L360.9 269.8L361.1 269.2L361.3 268.6L361.5 268.0L361.7 267.4L361.9 266.9L362.1 266.3L362.2 265.7L362.4 265.0L362.6 264.4L362.8 263.8L363.0 263.2L363.1 262.6L363.3 262.0L363.5 261.5L363.7 260.9L363.8 260.3L364.0 259.7L364.2 259.1L364.3 258.6L364.5 258.0L364.7 257.4L364.9 256.8L365.1 256.3L365.2 255.7L365.4 255.3L365.6 254.8L365.8 254.3L365.9 253.8L366.1 253.4L366.3 252.9L366.4 252.4L366.6 251.9L366.8 251.4L366.9 250.8L367.1 250.2L367.3 249.6L367.4 248.9L367.6 248.2L367.8 247.5L367.9 246.6L368.1 245.8L368.3 244.8L368.4 244.4L368.5 243.9L368.5 243.4L368.6 243.0L368.7 242.5L368.8 242.0L368.8 241.4L368.9 240.9L369.0 240.4L369.1 239.8L369.2 239.3L369.2 238.7L369.3 238.1L369.4 237.5L369.5 236.9L369.6 236.3L369.6 235.7L369.7 235.1L369.8 234.4L369.9 233.8L370.0 233.2L370.1 232.5L370.1 231.9L370.2 231.2L370.3 230.6L370.4 229.9L370.5 229.2L370.5 228.6L370.6 227.9L370.7 227.3L370.8 226.6L370.9 225.9L370.9 225.3L371.0 224.6L371.1 224.0L371.2 223.3L371.3 222.7L371.3 222.0L371.4 221.4L371.5 220.8L371.6 220.1L371.6 219.5L371.7 218.9L371.8 218.3L371.9 217.7L371.9 217.1L372.0 216.5L372.1 216.0L372.2 215.4L372.2 214.8L372.3 214.3L372.4 213.6L372.5 213.0L372.6 212.3L372.7 211.6L372.7 211.0L372.8 210.3L372.9 209.7L373.0 209.1L373.1 208.4L373.2 207.8L373.3 207.2L373.3 206.6L373.4 206.0L373.5 205.4L373.6 204.8L373.7 204.2L373.8 203.6L373.8 203.0L373.9 202.4L374.0 201.9L374.1 201.3L374.2 200.7L374.2 200.1L374.3 199.5L374.4 199.0L374.5 198.4L374.5 197.8L374.6 197.2L374.7 196.7L374.8 196.1L374.8 195.5L374.9 194.9L375.0 194.3L375.1 193.8L375.1 193.2L375.2 192.6L375.3 192.0L375.4 191.4L375.4 190.8L375.5 190.2L375.6 189.6L375.6 189.0L375.7 188.4L375.8 187.7L375.8 187.1L375.9 186.5L376.0 185.9L376.1 185.2L376.1 184.6L376.2 184.0L376.3 183.3L376.3 182.7L376.4 182.1L376.4 181.4L376.5 180.8L376.6 180.1L376.6 179.5L376.7 178.9L376.8 178.2L376.8 177.6L376.9 177.0L376.9 176.3L377.0 175.7L377.1 175.1L377.1 174.5L377.2 173.9L377.2 173.3L377.3 172.7L377.3 172.1L377.4 171.5L377.5 170.9L377.5 170.3L377.6 169.7L377.6 169.2L377.7 168.6L377.7 168.1L377.8 167.6L377.8 167.0L377.9 166.5L377.9 166.0L378.0 165.2L378.0 164.5L378.1 163.9L378.1 163.2L378.2 162.6L378.3 162.0L378.3 161.5L378.4 160.9L378.4 160.4L378.4 159.9L378.5 159.4L378.5 158.9L378.6 158.4L378.6 157.9L378.6 157.3L378.7 156.8L378.7 156.3L378.8 155.7L378.8 155.1L378.8 154.5L378.9 153.8L378.9 153.2L379.0 152.4L379.0 151.7L379.1 150.9L379.1 150.0L379.1 149.5L379.2 149.1L379.2 148.6L379.2 148.1L379.2 147.6L379.3 147.1L379.3 146.5L379.3 146.0L379.3 145.4L379.4 144.9L379.4 144.3L379.4 143.8L379.5 143.2L379.5 142.6L379.5 142.0L379.5 141.4L379.6 140.8L379.6 140.2L379.6 139.6L379.7 139.0L379.7 138.4L379.7 137.8L379.7 137.1L379.8 136.5L379.8 135.9L379.8 135.2L379.9 134.6L379.9 134.0L379.9 133.3L379.9 132.7L380.0 132.0L380.0 131.4L380.0 130.7L380.1 130.1L380.1 129.4L380.1 128.8L380.1 128.2L380.2 127.5L380.2 126.9L380.2 126.2L380.3 125.6L380.3 125.0L380.3 124.3L380.3 123.7L380.4 123.1L380.4 122.4L380.4 121.8L380.4 121.2L380.5 120.6L380.5 120.0L380.5 119.4L380.6 118.8L380.6 118.2L380.6 117.6L380.6 117.0L380.7 116.4L380.7 115.8L380.7 115.1L380.7 114.5L380.8 113.9L380.8 113.3L380.8 112.7L380.9 112.1L380.9 111.5L380.9 110.8L380.9 110.2L381.0 109.6L381.0 109.0L381.0 108.4L381.1 107.8L381.1 107.1L381.1 106.5L381.1 105.9L381.2 105.3L381.2 104.7L381.2 104.1L381.2 103.5L381.3 102.9L381.3 102.2L381.3 101.6L381.4 101.0L381.4 100.4L381.4 99.8L381.4 99.2L381.5 98.6L381.5 98.0L381.5 97.4L381.5 96.9L381.6 96.3L381.6 95.7L381.6 95.1L381.6 94.5L381.6 93.9L381.7 93.4L381.7 92.8L381.7 92.2L381.7 91.7L381.8 91.1L381.8 90.6L381.8 90.0L381.8 89.3L381.8 88.7L381.9 88.0L381.9 87.3L381.9 86.7L381.9 86.0L382.0 85.3L382.0 84.7L382.0 84.0L382.0 83.4L382.0 82.7L382.1 82.1L382.1 81.4L382.1 80.8L382.1 80.2L382.1 79.5L382.2 78.9L382.2 78.3L382.2 77.6L382.2 77.0L382.2 76.4L382.2 75.8L382.3 75.2L382.3 74.6L382.3 74.0L382.3 73.4L382.3 72.8L382.3 72.2L382.3 71.6L382.4 71.0L382.4 70.4L382.4 69.9L382.4 69.3L382.4 68.8L382.4 68.2L382.4 67.7L382.5 67.1L382.5 66.6L382.5 66.0L382.5 65.5L382.5 65.0L382.5 64.3L382.5 63.5L382.5 62.8L382.6 62.1L382.6 61.4L382.6 60.8L382.6 60.1L382.6 59.5L382.6 58.9L382.6 58.3L382.6 57.6L382.7 57.0L382.7 56.5L382.7 55.9L382.7 55.3L382.7 54.7L382.7 54.1L382.7 53.6L382.7 53.0L382.7 52.4L382.7 51.8L382.7 51.3L382.8 50.7L382.8 50.1L382.8 49.5L382.8 48.9L382.8 48.3L382.8 47.7L382.8 47.7L382.8 48.3L382.9 48.9L382.9 49.4L382.9 50.0L382.9 50.5L383.0 51.0L383.0 51.5L383.0 52.0L383.0 52.5L383.1 53.0L383.1 53.5L383.1 54.0L383.2 54.6L383.2 55.1L383.2 55.7L383.2 56.4L383.3 57.0L383.3 57.7L383.3 58.5L383.4 59.3L383.4 60.1L383.5 61.0L383.5 62.0L383.5 62.4L383.5 62.9L383.6 63.4L383.6 63.9L383.6 64.3L383.6 64.9L383.6 65.4L383.7 65.9L383.7 66.4L383.7 67.0L383.7 67.6L383.7 68.1L383.8 68.7L383.8 69.3L383.8 69.9L383.8 70.5L383.8 71.1L383.9 71.7L383.9 72.3L383.9 73.0L383.9 73.6L384.0 74.2L384.0 74.9L384.0 75.5L384.0 76.2L384.0 76.8L384.1 77.5L384.1 78.1L384.1 78.8L384.1 79.5L384.2 80.1L384.2 80.8L384.2 81.4L384.2 82.1L384.3 82.7L384.3 83.4L384.3 84.1L384.3 84.7L384.4 85.4L384.4 86.0L384.4 86.6L384.5 87.3L384.5 87.9L384.5 88.5L384.5 89.1L384.6 89.7L384.6 90.3L384.6 90.9L384.7 91.5L384.7 92.1L384.7 92.7L384.8 93.2L384.8 93.8L384.8 94.5L384.9 95.1L384.9 95.8L385.0 96.4L385.0 97.0L385.1 97.7L385.1 98.3L385.1 98.9L385.2 99.5L385.2 100.1L385.3 100.7L385.3 101.3L385.4 101.9L385.4 102.4L385.5 103.0L385.5 103.6L385.6 104.1L385.6 104.7L385.7 105.3L385.7 105.8L385.8 106.4L385.8 107.0L385.9 107.6L386.0 108.1L386.0 108.7L386.1 109.3L386.1 109.8L386.2 110.4L386.2 111.0L386.3 111.6L386.3 112.2L386.4 112.8L386.4 113.4L386.5 114.0L386.6 114.7L386.6 115.3L386.7 115.9L386.7 116.6L386.8 117.2L386.8 117.9L386.9 118.6L386.9 119.3L387.0 120.0L387.0 120.5L387.1 121.1L387.1 121.6L387.2 122.2L387.2 122.8L387.3 123.4L387.3 124.0L387.3 124.6L387.4 125.2L387.4 125.8L387.5 126.5L387.5 127.1L387.6 127.8L387.6 128.4L387.6 129.1L387.7 129.8L387.7 130.4L387.8 131.1L387.8 131.8L387.9 132.5L387.9 133.2L387.9 133.8L388.0 134.5L388.0 135.2L388.1 135.9L388.1 136.6L388.2 137.3L388.2 138.0L388.3 138.6L388.3 139.3L388.4 140.0L388.4 140.7L388.4 141.3L388.5 142.0L388.5 142.7L388.6 143.3L388.6 143.9L388.7 144.6L388.7 145.2L388.8 145.8L388.8 146.5L388.9 147.1L388.9 147.6L388.9 148.2L389.0 148.8L389.0 149.4L389.1 149.9L389.1 150.5L389.2 151.0L389.2 151.5L389.3 152.0L389.3 152.5L389.4 152.9L389.4 153.4L389.5 153.8L389.5 154.2L389.6 154.6L389.6 155.0L389.8 156.3L390.0 157.3L390.2 158.0L390.4 158.4L390.7 158.7L390.9 158.8L391.1 158.9L391.3 159.0L391.6 159.1L391.8 159.4L391.9 159.9L392.1 160.6L392.3 161.6L392.4 163.0L392.4 163.4L392.5 163.8L392.5 164.1L392.5 164.5L392.5 165.0L392.5 165.4L392.6 165.8L392.6 166.2L392.6 166.7L392.6 167.1L392.6 167.6L392.7 168.1L392.7 168.6L392.7 169.0L392.7 169.5L392.7 170.1L392.7 170.6L392.7 171.1L392.8 171.6L392.8 172.2L392.8 172.7L392.8 173.3L392.8 173.8L392.8 174.4L392.8 175.0L392.8 175.5L392.8 176.1L392.8 176.7L392.8 177.3L392.9 177.9L392.9 178.6L392.9 179.2L392.9 179.8L392.9 180.5L392.9 181.1L392.9 181.8L392.9 182.4L392.9 183.1L392.9 183.8L392.9 184.4L392.9 185.1L392.9 185.8L392.9 186.5L392.9 187.2L392.9 187.9L392.9 188.6L392.9 189.4L392.9 190.1L392.9 190.8L392.9 191.5L392.9 192.3L392.9 193.0L393.0 193.8L393.0 194.6L393.0 195.3L393.0 196.1L393.0 196.9L393.0 197.6L393.0 198.4L393.0 199.2L393.0 200.0L393.0 200.5L393.0 201.0L393.0 201.5L393.0 202.0L393.0 202.5L393.0 203.0L393.0 203.5L393.0 204.0L393.0 204.5L393.0 205.0L393.0 205.5L393.0 206.1L393.1 206.6L393.1 207.1L393.1 207.7L393.1 208.2L393.1 208.7L393.1 209.3L393.1 209.8L393.1 210.4L393.1 210.9L393.1 211.5L393.1 212.0L393.1 212.6L393.1 213.1L393.1 213.7L393.1 214.3L393.1 214.8L393.1 215.4L393.1 216.0L393.1 216.6L393.1 217.2L393.1 217.7L393.1 218.3L393.1 218.9L393.1 219.5L393.1 220.1L393.1 220.7L393.1 221.3L393.1 221.9L393.1 222.5L393.1 223.1L393.1 223.7L393.1 224.3L393.1 224.9L393.1 225.5L393.1 226.1L393.1 226.7L393.1 227.3L393.1 227.9L393.1 228.6L393.1 229.2L393.2 229.8L393.2 230.4L393.2 231.0L393.2 231.7L393.2 232.3L393.2 232.9L393.2 233.5L393.2 234.2L393.2 234.8L393.2 235.4L393.2 236.1L393.2 236.7L393.2 237.3L393.2 238.0L393.2 238.6L393.2 239.3L393.2 239.9L393.2 240.5L393.2 241.2L393.2 241.8L393.2 242.5L393.2 243.1L393.2 243.8L393.2 244.4L393.2 245.0L393.2 245.7L393.2 246.3L393.2 247.0L393.2 247.6L393.2 248.3L393.2 248.9L393.2 249.6L393.2 250.2L393.2 250.9L393.2 251.5L393.2 252.2L393.3 252.8L393.3 253.5L393.3 254.1L393.3 254.8L393.3 255.4L393.3 256.1L393.3 256.7L393.3 257.4L393.3 258.0L393.3 258.7L393.3 259.3L393.3 260.0L393.3 260.6L393.3 261.1L393.3 261.7L393.3 262.3L393.3 262.8L393.3 263.4L393.3 263.9L393.3 264.5L393.3 265.1L393.3 265.7L393.3 266.2L393.4 266.8L393.4 267.4L393.4 267.9L393.4 268.5L393.4 269.1L393.4 269.7L393.4 270.3L393.4 270.8L393.4 271.4L393.4 272.0L393.4 272.6L393.4 273.2L393.4 273.7L393.4 274.3L393.4 274.9L393.4 275.5L393.4 276.1L393.4 276.7L393.4 277.3L393.5 277.9L393.5 278.4L393.5 279.0L393.5 279.6L393.5 280.2L393.5 280.8L393.5 281.4L393.5 282.0L393.5 282.6L393.5 283.2L393.5 283.8L393.5 284.4L393.5 285.0L393.5 285.6L393.5 286.2L393.5 286.8L393.5 287.4L393.5 288.0L393.6 288.6L393.6 289.2L393.6 289.8L393.6 290.4L393.6 291.0L393.6 291.6L393.6 292.2L393.6 292.8L393.6 293.4L393.6 294.0L393.6 294.7L393.6 295.3L393.6 295.9L393.6 296.5L393.6 297.1L393.6 297.7L393.6 298.3L393.7 298.9L393.7 299.5L393.7 300.2L393.7 300.8L393.7 301.4L393.7 302.0L393.7 302.6L393.7 303.2L393.7 303.8L393.7 304.5L393.7 305.1L393.7 305.7L393.7 306.3L393.7 306.9L393.7 307.6L393.8 308.2L393.8 308.8L393.8 309.4L393.8 310.0L393.8 310.7L393.8 311.3L393.8 311.9L393.8 312.5L393.8 313.1L393.8 313.8L393.8 314.4L393.8 315.0L393.8 315.6L393.8 316.2L393.8 316.9L393.9 317.5L393.9 318.1L393.9 318.7L393.9 319.4L393.9 320.0L393.9 320.6L393.9 321.2L393.9 321.9L393.9 322.5L393.9 323.1L393.9 323.7L393.9 324.4L393.9 325.0L393.9 325.6L394.0 326.2L394.0 326.9L394.0 327.5L394.0 328.1L394.0 328.7L394.0 329.4L394.0 330.0L394.0 330.6L394.0 331.2L394.0 331.7L394.0 332.3L394.0 332.9L394.0 333.5L394.0 334.1L394.1 334.7L394.1 335.3L394.1 335.8L394.1 336.4L394.1 337.0L394.1 337.6L394.1 338.2L394.1 338.8L394.1 339.4L394.1 340.0L394.1 340.6L394.1 341.2L394.1 341.7L394.2 342.3L394.2 342.9L394.2 343.5L394.2 344.1L394.2 344.7L394.2 345.3L394.2 345.9L394.2 346.5L394.2 347.1L394.2 347.7L394.2 348.3L394.2 348.9L394.2 349.5L394.3 350.1L394.3 350.7L394.3 351.3L394.3 351.9L394.3 352.5L394.3 353.1L394.3 353.7L394.3 354.3L394.3 354.9L394.3 355.5L394.3 356.1L394.3 356.7L394.3 357.3L394.4 357.9L394.4 358.5L394.4 359.1L394.4 359.7L394.4 360.3L394.4 360.9L394.4 361.6L394.4 362.2L394.4 362.8L394.4 363.4L394.4 364.0L394.4 364.6L394.5 365.2L394.5 365.8L394.5 366.4L394.5 367.0L394.5 367.6L394.5 368.2L394.5 368.8L394.5 369.4L394.5 370.1L394.5 370.7L394.5 371.3L394.5 371.9L394.6 372.5L394.6 373.1L394.6 373.7L394.6 374.3L394.6 374.9L394.6 375.5L394.6 376.1L394.6 376.8L394.6 377.4L394.6 378.0L394.6 378.6L394.6 379.2L394.7 379.8L394.7 380.4L394.7 381.0L394.7 381.6L394.7 382.2L394.7 382.8L394.7 383.5L394.7 384.1L394.7 384.7L394.7 385.3L394.7 385.9L394.7 386.5L394.8 387.1L394.8 387.7L394.8 388.3L394.8 388.9L394.8 389.5L394.8 390.2L394.8 390.8L394.8 391.4L394.8 392.0L394.8 392.6L394.8 393.2L394.8 393.8L394.9 394.4L394.9 395.0L394.9 395.6L394.9 396.2L394.9 396.8L394.9 397.4L394.9 398.0L394.9 398.7L394.9 399.3L394.9 399.9L394.9 400.5L394.9 401.1L395.0 401.7L395.0 402.3L395.0 402.9L395.0 403.5L395.0 404.1L395.0 404.7L395.0 405.3" stroke="#7a3f3f" stroke-width="2.7" fill="none" stroke-linejoin="round"/>
<path d="M446.20 407 L446.20 370.30 A1.80 1.80 0 0 1 449.80 370.30 L449.80 407 Z" fill="#7a3f3f"/>
<path d="M533.40 407 L533.40 402.90 A1.10 1.10 0 0 1 535.60 402.90 L535.60 407 Z" fill="#7a3f3f"/>
<path d="M93.5 405.3L94.1 405.3L94.7 405.3L95.4 405.3L96.0 405.3L96.7 405.3L97.3 405.3L98.0 405.3L98.7 405.3L99.4 405.3L100.1 405.3L100.7 405.3L101.4 405.3L102.1 405.3L102.8 405.3L103.4 405.3L104.1 405.3L104.7 405.3L105.3 405.3L106.0 405.3L106.6 405.3L107.1 405.3L107.7 405.3L108.3 405.3L108.8 405.3L109.3 405.3L109.8 405.3L110.2 405.3L110.6 405.3L111.0 405.3L112.5 405.3L113.4 405.4L113.9 405.4L114.3 405.5L114.6 405.4L115.0 405.3L115.6 405.0L116.1 404.6L116.6 404.1L117.1 403.6L117.6 403.0L118.0 402.6L118.3 402.3L118.7 401.9L119.1 401.5L119.4 400.9L119.9 400.2L120.3 399.2L120.5 398.8L120.6 398.4L120.8 397.9L121.0 397.4L121.2 396.9L121.4 396.3L121.6 395.8L121.8 395.2L122.0 394.6L122.2 394.0L122.4 393.3L122.6 392.7L122.8 392.0L123.0 391.4L123.2 390.7L123.4 390.0L123.6 389.3L123.7 388.7L123.9 388.0L124.1 387.3L124.2 386.8L124.4 386.2L124.5 385.7L124.6 385.1L124.8 384.6L124.9 384.0L125.0 383.4L125.1 382.8L125.3 382.3L125.4 381.7L125.5 381.1L125.6 380.5L125.7 379.9L125.9 379.3L126.0 378.7L126.1 378.0L126.2 377.4L126.3 376.8L126.5 376.2L126.6 375.6L126.7 375.0L126.8 374.4L126.9 373.8L127.1 373.2L127.2 372.6L127.3 372.0L127.4 371.4L127.5 370.8L127.7 370.2L127.8 369.6L127.9 369.0L128.0 368.4L128.1 367.8L128.3 367.2L128.4 366.5L128.5 365.9L128.6 365.3L128.7 364.7L128.9 364.1L129.0 363.5L129.1 362.9L129.2 362.3L129.3 361.7L129.5 361.1L129.6 360.5L129.7 359.9L129.8 359.3L129.9 358.8L130.0 358.2L130.2 357.7L130.3 357.1L130.4 356.6L130.6 355.9L130.7 355.3L130.9 354.6L131.0 353.9L131.2 353.3L131.3 352.7L131.5 352.0L131.7 351.4L131.8 350.8L132.0 350.2L132.1 349.6L132.3 349.1L132.4 348.5L132.6 347.9L132.7 347.4L132.9 346.8L133.0 346.3L133.1 345.7L133.3 345.2L133.4 344.7L133.6 344.0L133.7 343.3L133.9 342.6L134.0 342.0L134.1 341.4L134.2 340.8L134.4 340.2L134.5 339.6L134.6 339.0L134.8 338.4L134.9 337.8L135.1 337.2L135.3 336.6L135.5 336.0L135.7 335.5L135.9 334.9L136.1 334.4L136.4 333.8L136.6 333.3L136.9 332.7L137.1 332.1L137.4 331.6L137.7 331.0L138.0 330.4L138.2 329.9L138.5 329.3L138.8 328.8L139.1 328.3L139.4 327.8L139.7 327.3L140.0 326.8L140.4 326.2L140.7 325.7L141.1 325.1L141.5 324.6L141.9 324.0L142.3 323.5L142.7 323.0L143.1 322.5L143.5 322.0L143.9 321.6L144.3 321.1L144.7 320.7L145.0 320.3L145.4 320.0L146.0 319.5L146.7 319.0L147.3 318.7L147.9 318.4L148.5 318.1L149.0 317.9L149.5 317.7L150.0 318.3L150.8 317.2L151.3 316.9L151.9 316.6L152.4 316.6L153.0 316.5L153.5 316.6L154.1 316.6L154.6 315.3L154.8 314.5L155.1 313.3L155.3 313.2L155.6 312.9L155.8 313.2L156.1 312.5L156.3 311.7L156.6 311.3L156.8 310.0L156.9 309.2L157.1 307.7L157.2 307.6L157.4 307.3L157.5 306.7L157.6 305.5L157.8 305.4L157.9 304.6L158.1 304.0L158.2 302.7L158.3 302.0L158.5 301.7L158.6 301.6L158.7 301.2L158.9 300.7L159.0 299.7L159.4 298.7L159.7 298.1L160.1 297.9L160.4 297.5L160.7 296.7L161.1 297.0L161.4 298.4L161.7 299.6L162.0 299.7L162.1 298.5L162.2 298.4L162.4 297.3L162.5 296.8L162.6 295.6L162.7 295.3L162.9 294.9L163.0 294.0L163.1 293.2L163.3 292.4L163.4 291.6L163.9 290.8L164.5 290.7L165.0 290.8L165.1 290.4L165.3 290.5L165.4 290.1L165.5 289.8L165.6 289.3L165.7 288.6L165.9 287.5L166.0 286.9L166.1 285.7L166.3 285.1L166.5 284.4L166.7 284.0L166.9 283.6L167.1 282.4L167.3 281.6L167.6 281.0L167.8 280.9L168.0 280.9L168.3 280.1L168.5 279.5L168.9 278.6L169.2 278.2L169.6 277.0L170.0 276.1L170.3 275.9L170.7 275.5L171.0 275.5L171.6 274.3L172.0 274.7L172.5 273.4L172.7 273.2L172.9 271.6L173.0 271.3L173.2 271.0L173.4 270.5L173.6 270.2L173.8 268.9L174.1 268.8L174.3 266.8L174.5 266.9L174.8 265.9L175.2 266.0L175.5 264.6L175.9 264.0L176.3 264.0L176.6 263.8L177.0 264.0L177.6 263.0L178.2 262.8L178.9 262.0L179.5 262.1L180.1 263.0L180.8 263.9L181.4 264.4L182.0 263.7L182.7 264.3L183.4 265.0L184.0 264.7L184.7 263.7L185.3 263.6L186.0 263.9L186.7 264.0L187.3 263.0L188.0 263.1L188.5 263.6L189.0 263.7L189.5 264.5L190.0 264.6L190.5 264.9L190.9 264.5L191.4 264.9L192.0 265.1L192.4 265.1L192.8 265.0L193.2 263.6L193.6 263.0L194.0 262.7L194.5 263.4L195.0 262.8L195.3 261.8L195.6 261.5L195.9 261.1L196.2 260.6L196.5 260.2L196.9 259.6L197.2 259.4L197.6 258.1L197.9 257.7L198.3 256.6L198.6 255.8L199.0 255.8L199.5 255.3L200.1 255.2L200.6 254.0L201.2 253.9L201.8 253.5L202.3 253.1L202.9 253.3L203.5 253.0L204.0 253.8L204.7 252.7L205.3 252.7L206.0 252.8L206.6 252.9L207.2 252.2L207.9 251.5L208.5 251.5L209.0 251.8L209.5 251.9L210.0 252.1L210.5 252.7L211.0 253.1L211.5 253.5L212.0 254.1L212.5 254.6L213.0 256.1L213.6 256.1L214.2 256.2L214.7 255.3L215.3 255.8L215.9 255.9L216.4 255.8L217.0 256.4L217.7 256.3L218.3 257.2L219.0 256.6L219.7 256.6L220.3 256.7L221.0 256.6L221.6 256.8L222.1 256.5L222.7 257.3L223.3 258.2L223.9 258.8L224.4 259.1L225.0 259.0L225.6 258.7L226.1 257.7L226.7 256.7L227.3 256.1L227.8 256.4L228.4 256.0L229.0 256.4L229.6 256.0L230.1 256.5L230.7 256.4L231.2 257.2L231.8 257.7L232.5 258.4L233.2 258.5L233.7 258.5L234.3 258.7L234.8 258.6L235.4 258.9L236.0 259.1L236.7 259.0L237.3 259.2L237.9 258.8L238.6 259.3L239.2 259.6L239.8 260.0L240.3 259.9L240.9 259.9L241.4 260.2L241.9 260.9L242.4 261.4L243.0 262.2L243.5 262.5L244.0 263.1L244.6 262.8L245.2 263.5L245.8 263.6L246.4 264.4L246.8 264.7L247.3 265.2L247.7 265.3L248.2 265.4L248.7 266.0L249.2 266.7L249.7 267.1L250.2 267.3L250.7 267.4L251.2 267.8L251.7 268.2L252.2 268.6L252.7 269.2L253.2 269.6L253.7 270.1L254.2 270.1L254.7 270.5L255.2 270.7L255.8 271.0L256.4 271.3L257.0 271.7L257.6 272.1L258.2 272.5L258.8 272.5L259.4 272.7L260.0 272.8L260.6 273.2L261.2 273.5L261.8 273.6L262.4 273.8L262.9 273.8L263.5 274.1L264.0 273.9L264.7 274.1L265.3 274.3L266.0 274.3L266.6 274.4L267.1 274.4L267.7 274.6L268.3 274.7L268.9 274.7L269.4 274.9L270.0 275.0L270.6 275.3L271.1 275.3L271.6 275.6L272.1 275.8L272.6 276.4L273.0 276.6L273.5 277.1L274.0 277.3L274.5 277.9L275.0 278.2L275.5 278.6L276.1 279.1L276.6 279.3L277.2 279.7L277.7 279.8L278.2 280.2L278.7 280.6L279.3 280.9L279.9 281.2L280.4 281.5L281.0 281.7L281.6 281.9L282.2 282.3L282.8 282.5L283.3 282.8L283.9 282.8L284.5 283.1L285.0 283.2L285.5 283.7L286.0 283.8L286.7 284.2L287.3 284.3L288.0 284.7L288.6 284.9L289.1 285.0L289.7 285.1L290.3 285.1L290.9 285.1L291.4 285.2L292.0 285.0L292.6 285.2L293.2 285.4L293.8 285.6L294.4 285.7L295.0 285.7L295.6 286.0L296.2 286.4L296.8 286.4L297.4 286.4L298.0 286.4L298.6 286.7L299.2 286.6L299.8 286.8L300.4 287.0L301.0 287.1L301.5 287.2L302.1 287.3L302.7 287.4L303.3 287.4L303.9 287.5L304.5 287.5L305.1 287.6L305.8 287.6L306.4 287.6L307.0 287.6L307.6 287.6L308.3 287.6L308.9 287.5L309.6 287.5L310.3 287.5L310.9 287.4L311.6 287.4L312.2 287.3L312.8 287.3L313.4 287.2L314.0 287.2L314.7 287.2L315.3 287.2L315.9 287.2L316.4 287.2L316.9 287.1L317.5 287.1L318.0 287.1L318.6 286.9L319.3 286.8L320.0 286.5L320.5 286.3L320.9 286.1L321.4 285.9L322.0 285.7L322.5 285.4L323.0 285.2L323.6 284.9L324.2 284.6L324.7 284.3L325.3 284.0L325.9 283.7L326.5 283.3L327.0 282.9L327.6 282.6L328.2 282.1L328.7 281.7L329.3 281.3L329.7 280.9L330.2 280.6L330.6 280.2L331.0 279.8L331.5 279.3L331.9 278.9L332.4 278.5L332.8 278.0L333.3 277.5L333.7 277.1L334.2 276.6L334.6 276.1L335.1 275.6L335.5 275.1L335.9 274.6L336.3 274.2L336.7 273.7L337.1 273.2L337.5 272.8L337.9 272.3L338.3 271.9L338.6 271.5L339.1 271.0L339.5 270.4L339.9 269.9L340.3 269.4L340.7 268.9L341.1 268.4L341.4 267.9L341.8 267.4L342.1 266.9L342.4 266.4L342.7 265.9L343.0 265.5L343.3 265.0L343.6 264.5L343.9 264.0L344.2 263.5L344.5 262.9L344.8 262.3L345.1 261.8L345.4 261.2L345.7 260.6L345.9 260.0L346.2 259.4L346.4 258.9L346.7 258.3L346.9 257.7L347.2 257.1L347.4 256.6L347.7 256.0L347.9 255.5L348.2 254.9L348.5 254.3L348.8 253.8L349.0 253.2L349.3 252.7L349.6 252.2L349.9 251.6L350.1 251.1L350.4 250.5L350.7 249.9L350.9 249.2L351.2 248.5L351.4 248.0L351.5 247.5L351.7 247.0L351.9 246.4L352.0 245.9L352.2 245.3L352.3 244.7L352.5 244.2L352.7 243.6L352.8 242.9L353.0 242.3L353.1 241.7L353.3 241.1L353.4 240.5L353.6 239.9L353.7 239.3L353.9 238.7L354.0 238.1L354.2 237.5L354.4 236.9L354.5 236.3L354.6 235.8L354.8 235.2L354.9 234.7L355.0 234.2L355.2 233.6L355.3 233.1L355.4 232.5L355.6 232.0L355.7 231.4L355.8 230.8L356.0 230.2L356.2 229.5L356.3 228.8L356.5 228.1L356.7 227.3L356.9 226.5L357.0 226.0L357.1 225.5L357.3 225.0L357.4 224.5L357.5 224.0L357.7 223.4L357.8 222.8L358.0 222.2L358.1 221.7L358.3 221.1L358.4 220.4L358.6 219.8L358.8 219.2L358.9 218.6L359.1 217.9L359.2 217.3L359.4 216.6L359.6 216.0L359.7 215.3L359.9 214.7L360.1 214.1L360.2 213.4L360.4 212.8L360.5 212.1L360.7 211.5L360.8 210.9L361.0 210.3L361.1 209.7L361.3 209.1L361.4 208.5L361.5 207.9L361.7 207.3L361.8 206.8L361.9 206.1L362.1 205.5L362.2 204.9L362.4 204.2L362.5 203.6L362.6 203.0L362.8 202.4L362.9 201.8L363.0 201.2L363.1 200.6L363.3 200.0L363.4 199.4L363.5 198.9L363.6 198.3L363.7 197.7L363.8 197.1L363.9 196.6L364.1 196.0L364.2 195.4L364.3 194.9L364.4 194.3L364.5 193.7L364.6 193.1L364.7 192.6L364.8 192.0L364.9 191.4L365.0 190.8L365.1 190.2L365.2 189.6L365.3 188.9L365.4 188.3L365.5 187.7L365.6 187.1L365.7 186.4L365.8 185.8L365.9 185.2L366.0 184.5L366.1 183.9L366.2 183.3L366.3 182.6L366.4 182.0L366.4 181.4L366.5 180.8L366.6 180.1L366.7 179.5L366.8 178.9L366.9 178.3L367.0 177.7L367.1 177.1L367.1 176.5L367.2 175.9L367.3 175.4L367.4 174.8L367.5 174.1L367.6 173.5L367.7 172.8L367.8 172.2L367.9 171.6L368.0 170.9L368.1 170.3L368.2 169.7L368.3 169.1L368.4 168.5L368.5 167.9L368.6 167.3L368.7 166.7L368.8 166.1L368.8 165.5L368.9 164.9L369.0 164.3L369.1 163.8L369.2 163.2L369.3 162.6L369.4 162.1L369.5 161.5L369.6 160.9L369.7 160.3L369.8 159.7L369.9 159.2L370.0 158.7L370.1 158.2L370.2 157.7L370.3 157.2L370.5 156.7L370.6 156.2L370.7 155.7L370.8 155.2L370.9 154.6L371.0 153.9L371.1 153.3L371.2 152.6L371.3 151.8L371.4 150.9L371.5 150.0L371.5 149.5L371.6 149.1L371.6 148.6L371.7 148.1L371.7 147.7L371.8 147.2L371.8 146.6L371.9 146.1L371.9 145.6L372.0 145.1L372.0 144.5L372.1 144.0L372.1 143.4L372.2 142.8L372.2 142.3L372.3 141.7L372.3 141.1L372.4 140.5L372.4 139.9L372.5 139.3L372.5 138.7L372.5 138.0L372.6 137.4L372.6 136.8L372.7 136.1L372.7 135.5L372.8 134.8L372.8 134.1L372.9 133.5L372.9 132.8L373.0 132.1L373.0 131.4L373.1 130.7L373.1 130.0L373.2 129.3L373.2 128.6L373.3 127.9L373.3 127.2L373.4 126.5L373.4 125.7L373.5 125.0L373.5 124.5L373.6 124.0L373.6 123.4L373.7 122.9L373.7 122.3L373.7 121.8L373.8 121.2L373.8 120.7L373.8 120.1L373.9 119.5L373.9 118.9L374.0 118.3L374.0 117.8L374.0 117.2L374.1 116.6L374.1 116.0L374.2 115.4L374.2 114.7L374.2 114.1L374.3 113.5L374.3 112.9L374.4 112.3L374.4 111.7L374.5 111.0L374.5 110.4L374.5 109.8L374.6 109.1L374.6 108.5L374.7 107.9L374.7 107.2L374.7 106.6L374.8 106.0L374.8 105.3L374.9 104.7L374.9 104.1L375.0 103.4L375.0 102.8L375.0 102.2L375.1 101.5L375.1 100.9L375.2 100.3L375.2 99.6L375.3 99.0L375.3 98.4L375.3 97.8L375.4 97.2L375.4 96.5L375.5 95.9L375.5 95.3L375.6 94.7L375.6 94.1L375.6 93.5L375.7 92.9L375.7 92.3L375.8 91.7L375.8 91.1L375.9 90.6L375.9 90.0L375.9 89.4L376.0 88.7L376.1 88.1L376.1 87.4L376.2 86.8L376.2 86.2L376.3 85.5L376.3 84.9L376.4 84.3L376.4 83.7L376.5 83.0L376.5 82.4L376.6 81.8L376.6 81.2L376.7 80.6L376.8 80.0L376.8 79.4L376.9 78.8L376.9 78.2L377.0 77.6L377.0 77.0L377.1 76.3L377.1 75.7L377.2 75.1L377.3 74.5L377.3 74.0L377.4 73.4L377.4 72.8L377.5 72.2L377.5 71.6L377.6 71.0L377.6 70.4L377.7 69.8L377.7 69.2L377.8 68.6L377.8 68.0L377.9 67.4L377.9 66.8L378.0 66.2L378.0 65.6L378.1 65.0L378.1 64.4L378.2 63.8L378.2 63.2L378.3 62.6L378.3 62.0L378.3 61.4L378.4 60.8L378.4 60.2L378.5 59.6L378.5 59.0L378.5 58.4L378.6 57.8L378.6 57.2L378.6 56.6L378.7 56.0L378.7 55.4L378.7 54.7L378.8 54.1L378.8 53.5L378.8 52.9L378.8 52.3L378.9 51.7L378.9 51.1L378.9 50.5L378.9 49.9L379.0 49.3L379.0 48.7L379.0 48.1L379.0 47.5L379.0 46.8L379.1 46.2L379.1 45.6L379.1 45.0L379.1 44.4L379.1 43.8L379.2 43.2L379.2 42.6L379.2 42.0L379.2 41.4L379.2 40.8L379.2 40.2L379.3 39.5L379.3 38.9L379.3 38.3L379.3 37.7L379.3 37.1L379.3 36.5L379.4 35.9L379.4 35.3L379.4 34.7L379.4 34.1L379.4 33.5L379.4 32.9L379.5 32.3L379.5 31.6L379.5 31.0L379.5 30.4L379.5 29.8L379.6 29.2L379.6 28.6L379.6 28.0L385.9 28.0L386.0 28.6L386.1 29.2L386.2 29.8L386.3 30.4L386.3 31.0L386.4 31.7L386.5 32.3L386.6 32.9L386.7 33.5L386.8 34.1L386.9 34.7L387.0 35.3L387.1 35.9L387.2 36.5L387.2 37.1L387.3 37.7L387.4 38.3L387.5 38.9L387.5 39.4L387.6 40.0L387.7 40.7L387.7 41.3L387.8 42.0L387.8 42.6L387.9 43.3L387.9 43.9L388.0 44.5L388.0 45.1L388.0 45.7L388.1 46.3L388.1 46.9L388.1 47.5L388.2 48.2L388.2 48.8L388.3 49.4L388.3 50.0L388.3 50.6L388.4 51.2L388.4 51.7L388.5 52.3L388.5 52.8L388.6 53.3L388.6 53.8L388.7 54.4L388.7 54.9L388.8 55.5L388.8 56.1L388.9 56.8L389.0 57.5L389.0 58.3L389.1 59.1L389.2 60.0L389.2 60.5L389.3 61.0L389.3 61.5L389.4 62.0L389.4 62.6L389.5 63.1L389.5 63.7L389.6 64.4L389.7 65.0L389.7 65.6L389.8 66.3L389.8 66.9L389.9 67.6L389.9 68.2L390.0 68.9L390.1 69.6L390.1 70.3L390.2 71.0L390.3 71.6L390.3 72.3L390.4 73.0L390.4 73.6L390.5 74.3L390.6 74.9L390.6 75.6L390.7 76.2L390.8 76.8L390.8 77.4L390.9 77.9L390.9 78.5L391.0 79.0L391.0 79.5L391.1 80.0L391.2 80.8L391.3 81.7L391.4 82.4L391.5 83.2L391.6 83.9L391.7 84.6L391.8 85.2L391.9 85.8L391.9 86.4L392.0 87.0L392.1 87.6L392.2 88.1L392.3 88.6L392.4 89.1L392.5 89.6L392.6 90.1L392.7 90.6L392.8 91.0L393.0 91.7L393.3 92.0L393.6 92.0L393.9 92.1L394.1 92.3L394.4 92.9L394.6 94.0L394.8 96.0L394.8 96.4L394.8 96.7L394.9 97.1L394.9 97.5L394.9 97.8L394.9 98.2L394.9 98.6L395.0 99.0L395.0 99.4L395.0 99.9L395.0 100.3L395.0 100.7L395.0 101.2L395.1 101.6L395.1 102.1L395.1 102.6L395.1 103.0L395.1 103.5L395.1 104.0L395.1 104.5L395.1 105.0L395.2 105.6L395.2 106.1L395.2 106.7L395.2 107.2L395.2 107.8L395.2 108.4L395.2 108.9L395.2 109.5L395.2 110.1L395.2 110.8L395.2 111.4L395.3 112.0L395.3 112.7L395.3 113.3L395.3 114.0L395.3 114.7L395.3 115.4L395.3 116.1L395.3 116.8L395.3 117.5L395.3 118.3L395.3 119.0L395.3 119.8L395.3 120.6L395.3 121.4L395.3 122.2L395.3 123.0L395.4 123.8L395.4 124.7L395.4 125.5L395.4 126.4L395.4 127.3L395.4 128.2L395.4 129.1L395.4 130.0L395.4 130.4L395.4 130.9L395.4 131.3L395.4 131.8L395.4 132.3L395.4 132.7L395.4 133.2L395.4 133.6L395.4 134.1L395.4 134.5L395.4 135.0L395.4 135.5L395.4 135.9L395.4 136.4L395.4 136.9L395.4 137.3L395.5 137.8L395.5 138.3L395.5 138.7L395.5 139.2L395.5 139.7L395.5 140.2L395.5 140.6L395.5 141.1L395.5 141.6L395.5 142.1L395.5 142.6L395.5 143.1L395.5 143.6L395.5 144.1L395.5 144.6L395.5 145.1L395.5 145.6L395.5 146.1L395.5 146.6L395.5 147.1L395.5 147.6L395.5 148.1L395.5 148.6L395.5 149.1L395.5 149.7L395.5 150.2L395.5 150.7L395.5 151.2L395.5 151.8L395.5 152.3L395.5 152.9L395.5 153.4L395.5 153.9L395.5 154.5L395.5 155.0L395.5 155.6L395.5 156.2L395.5 156.7L395.5 157.3L395.5 157.9L395.5 158.4L395.5 159.0L395.5 159.6L395.5 160.2L395.5 160.7L395.5 161.3L395.5 161.9L395.5 162.5L395.5 163.1L395.5 163.7L395.6 164.3L395.6 165.0L395.6 165.6L395.6 166.2L395.6 166.8L395.6 167.5L395.6 168.1L395.6 168.7L395.6 169.4L395.6 170.0L395.6 170.7L395.6 171.3L395.6 172.0L395.6 172.7L395.6 173.3L395.6 174.0L395.6 174.7L395.6 175.4L395.6 176.0L395.6 176.7L395.6 177.4L395.6 178.1L395.6 178.8L395.6 179.6L395.6 180.3L395.6 181.0L395.6 181.7L395.6 182.5L395.6 183.2L395.6 183.9L395.6 184.7L395.6 185.4L395.6 186.2L395.6 187.0L395.6 187.7L395.6 188.5L395.6 189.3L395.6 190.1L395.6 190.9L395.6 191.7L395.6 192.5L395.6 193.3L395.6 194.1L395.6 194.9L395.6 195.8L395.6 196.6L395.6 197.4L395.6 198.3L395.6 199.1L395.6 200.0L395.6 200.5L395.6 200.9L395.6 201.4L395.6 201.9L395.6 202.4L395.6 202.8L395.6 203.3L395.6 203.8L395.6 204.3L395.6 204.8L395.6 205.3L395.6 205.8L395.6 206.3L395.6 206.8L395.6 207.3L395.6 207.9L395.6 208.4L395.6 208.9L395.6 209.4L395.6 210.0L395.6 210.5L395.6 211.0L395.6 211.6L395.6 212.1L395.6 212.7L395.6 213.2L395.6 213.8L395.6 214.3L395.6 214.9L395.6 215.4L395.6 216.0L395.6 216.5L395.6 217.1L395.6 217.7L395.6 218.3L395.6 218.8L395.6 219.4L395.6 220.0L395.6 220.6L395.6 221.1L395.6 221.7L395.6 222.3L395.6 222.9L395.6 223.5L395.6 224.1L395.6 224.7L395.6 225.3L395.6 225.9L395.6 226.5L395.6 227.1L395.6 227.7L395.6 228.3L395.6 228.9L395.6 229.6L395.6 230.2L395.6 230.8L395.6 231.4L395.6 232.0L395.6 232.7L395.6 233.3L395.6 233.9L395.6 234.5L395.6 235.2L395.6 235.8L395.6 236.4L395.6 237.1L395.6 237.7L395.6 238.3L395.6 239.0L395.6 239.6L395.6 240.3L395.6 240.9L395.6 241.6L395.6 242.2L395.6 242.9L395.6 243.5L395.6 244.2L395.6 244.8L395.6 245.5L395.6 246.1L395.6 246.8L395.6 247.4L395.6 248.1L395.6 248.7L395.6 249.4L395.6 250.0L395.6 250.7L395.6 251.4L395.6 252.0L395.6 252.7L395.6 253.3L395.6 254.0L395.6 254.7L395.6 255.3L395.6 256.0L395.6 256.7L395.6 257.3L395.6 258.0L395.6 258.7L395.6 259.3L395.6 260.0L395.6 260.7L395.6 261.3L395.6 262.0L395.6 262.7L395.6 263.3L395.6 264.0L395.6 264.7L395.6 265.3L395.6 266.0L395.6 266.7L395.6 267.3L395.6 268.0L395.6 268.7L395.6 269.3L395.6 270.0L395.6 270.7L395.6 271.3L395.6 272.0L395.6 272.7L395.6 273.3L395.6 274.0L395.6 274.7L395.6 275.3L395.6 276.0L395.6 276.7L395.6 277.3L395.6 278.0L395.6 278.7L395.6 279.3L395.6 280.0L395.6 280.6L395.6 281.3L395.6 282.0L395.6 282.6L395.6 283.3L395.6 283.9L395.6 284.6L395.6 285.2L395.6 285.9L395.6 286.5L395.6 287.2L395.6 287.8L395.6 288.5L395.6 289.1L395.6 289.8L395.6 290.4L395.6 291.1L395.6 291.7L395.6 292.4L395.6 293.0L395.6 293.6L395.6 294.3L395.6 294.9L395.6 295.5L395.6 296.2L395.6 296.8L395.6 297.4L395.6 298.1L395.6 298.7L395.6 299.3L395.6 299.9L395.6 300.6L395.6 301.2L395.6 301.8L395.6 302.4L395.6 303.0L395.6 303.6L395.6 304.2L395.6 304.9L395.6 305.5L395.6 306.1L395.6 306.7L395.6 307.3L395.6 307.9L395.6 308.5L395.6 309.0L395.6 309.6L395.6 310.2L395.6 310.8L395.6 311.4L395.6 312.0L395.6 312.5L395.6 313.1L395.6 313.7L395.6 314.3L395.6 314.8L395.6 315.4L395.6 316.0L395.6 316.5L395.6 317.1L395.6 317.6L395.6 318.2L395.6 318.7L395.6 319.3L395.6 319.8L395.6 320.4L395.6 320.9L395.6 321.4L395.6 322.0L395.6 322.5L395.6 323.0L395.6 323.5L395.6 324.0L395.6 324.6L395.6 325.1L395.6 325.6L395.6 326.1L395.6 326.6L395.6 327.1L395.6 327.6L395.6 328.1L395.6 328.6L395.6 329.0L395.6 329.5L395.6 330.0L395.6 330.8L395.6 331.6L395.6 332.4L395.6 333.2L395.6 334.0L395.6 334.8L395.6 335.6L395.6 336.4L395.6 337.1L395.6 337.9L395.6 338.6L395.6 339.4L395.6 340.1L395.6 340.8L395.6 341.6L395.6 342.3L395.6 343.0L395.6 343.7L395.6 344.4L395.6 345.1L395.6 345.8L395.6 346.5L395.6 347.2L395.7 347.9L395.7 348.6L395.7 349.2L395.7 349.9L395.7 350.6L395.7 351.2L395.7 351.9L395.7 352.5L395.7 353.2L395.7 353.8L395.7 354.4L395.7 355.1L395.7 355.7L395.7 356.3L395.7 356.9L395.7 357.5L395.7 358.1L395.7 358.7L395.7 359.4L395.7 360.0L395.7 360.5L395.7 361.1L395.7 361.7L395.7 362.3L395.7 362.9L395.7 363.5L395.7 364.1L395.7 364.6L395.7 365.2L395.7 365.8L395.7 366.3L395.7 366.9L395.8 367.5L395.8 368.0L395.8 368.6L395.8 369.1L395.8 369.7L395.8 370.2L395.8 370.8L395.8 371.3L395.8 371.9L395.8 372.4L395.8 373.0L395.8 373.5L395.8 374.1L395.8 374.6L395.8 375.1L395.8 375.7L395.8 376.2L395.8 376.7L395.8 377.3L395.8 377.8L395.8 378.3L395.8 378.9L395.8 379.4L395.8 379.9L395.8 380.5L395.8 381.0L395.8 381.5L395.9 382.0L395.9 382.6L395.9 383.1L395.9 383.6L395.9 384.2L395.9 384.7L395.9 385.2L395.9 385.8L395.9 386.3L395.9 386.8L395.9 387.4L395.9 387.9L395.9 388.4L395.9 389.0L395.9 389.5L395.9 390.0L395.9 390.6L395.9 391.1L395.9 391.7L395.9 392.2L395.9 392.7L395.9 393.3L395.9 393.8L395.9 394.4L395.9 394.9L395.9 395.5L395.9 396.1L395.9 396.6L396.0 397.2L396.0 397.7L396.0 398.3L396.0 398.9L396.0 399.4L396.0 400.0L396.0 400.6L396.0 401.2L396.0 401.7L396.0 402.3L396.0 402.9L396.0 403.5L396.0 404.1L396.0 404.7L396.0 405.3" stroke="#2f2680" stroke-width="2.9" fill="none" stroke-linejoin="round"/>
<path d="M415.20 407 L415.20 360.60 A1.40 1.40 0 0 1 418.00 360.60 L418.00 407 Z" fill="#2f2680"/>
<path d="M448.70 407 L448.70 400.30 A1.30 1.30 0 0 1 451.30 400.30 L451.30 407 Z" fill="#2f2680"/>
<path d="M463.10 407 L463.10 337.80 A1.70 1.70 0 0 1 466.50 337.80 L466.50 407 Z" fill="#2f2680"/>
<path d="M471.00 407 L471.00 370.10 A1.60 1.60 0 0 1 474.20 370.10 L474.20 407 Z" fill="#2f2680"/>
<path d="M486.20 407 L486.20 391.50 A1.10 1.10 0 0 1 488.40 391.50 L488.40 407 Z" fill="#2f2680"/>
<path d="M549.10 407 L549.10 377.60 A1.50 1.50 0 0 1 552.10 377.60 L552.10 407 Z" fill="#2f2680"/>
<path d="M93.5 405.3L94.1 405.3L94.7 405.3L95.4 405.3L96.0 405.3L96.7 405.3L97.3 405.3L98.0 405.3L98.7 405.3L99.4 405.3L100.0 405.3L100.7 405.3L101.4 405.3L102.1 405.3L102.7 405.3L103.4 405.3L104.0 405.3L104.7 405.3L105.3 405.3L105.9 405.3L106.5 405.3L107.1 405.3L107.7 405.3L108.2 405.3L108.8 405.3L109.3 405.3L109.7 405.3L110.2 405.3L110.6 405.3L111.0 405.3L112.3 405.3L113.3 405.4L113.9 405.4L114.4 405.5L114.7 405.5L115.1 405.4L115.5 405.3L116.1 405.1L116.6 404.8L117.0 404.4L117.4 404.0L117.9 403.5L118.3 403.0L118.7 402.6L119.0 402.3L119.4 401.9L119.8 401.5L120.2 400.9L120.6 400.2L121.0 399.2L121.2 398.8L121.3 398.4L121.5 397.9L121.7 397.4L121.9 396.9L122.1 396.3L122.3 395.8L122.5 395.2L122.7 394.6L122.9 394.0L123.1 393.3L123.3 392.7L123.5 392.0L123.7 391.4L123.9 390.7L124.1 390.0L124.3 389.3L124.4 388.7L124.6 388.0L124.8 387.3L124.9 386.8L125.1 386.2L125.2 385.7L125.3 385.1L125.5 384.6L125.6 384.0L125.7 383.4L125.8 382.8L126.0 382.3L126.1 381.7L126.2 381.1L126.3 380.5L126.4 379.9L126.6 379.3L126.7 378.7L126.8 378.0L126.9 377.4L127.0 376.8L127.2 376.2L127.3 375.6L127.4 375.0L127.5 374.4L127.6 373.8L127.8 373.2L127.9 372.6L128.0 372.0L128.1 371.4L128.2 370.8L128.4 370.2L128.5 369.6L128.6 369.0L128.7 368.4L128.8 367.8L128.9 367.2L129.1 366.5L129.2 365.9L129.3 365.3L129.4 364.7L129.5 364.1L129.6 363.5L129.7 362.9L129.9 362.3L130.0 361.7L130.1 361.1L130.2 360.5L130.3 359.9L130.4 359.3L130.5 358.8L130.7 358.2L130.8 357.7L130.9 357.1L131.0 356.6L131.2 355.9L131.3 355.2L131.5 354.6L131.6 353.9L131.8 353.3L131.9 352.6L132.1 352.0L132.2 351.3L132.4 350.7L132.6 350.1L132.7 349.5L132.9 348.9L133.0 348.3L133.2 347.8L133.3 347.2L133.5 346.7L133.6 346.2L133.7 345.7L133.9 345.2L134.0 344.7L134.2 343.9L134.4 343.2L134.6 342.5L134.7 341.9L134.9 341.3L135.0 340.8L135.2 340.3L135.3 339.7L135.5 339.2L135.7 338.6L136.0 338.0L136.2 337.5L136.5 336.9L136.8 336.4L137.0 335.8L137.3 335.3L137.6 334.7L137.9 334.2L138.3 333.6L138.6 333.0L138.9 332.5L139.3 331.9L139.6 331.4L140.0 330.8L140.3 330.3L140.6 329.8L141.0 329.3L141.3 328.8L141.7 328.3L142.1 327.7L142.4 327.2L142.8 326.7L143.2 326.2L143.5 325.7L143.9 325.2L144.3 324.7L144.7 324.3L145.0 323.8L145.4 323.4L145.9 322.9L146.3 322.3L146.8 321.7L147.3 321.1L147.9 320.5L148.4 319.9L148.8 319.5L149.3 319.1L149.7 318.7L150.1 319.7L150.5 319.4L150.8 319.8L151.0 319.3L151.2 319.4L151.3 319.2L151.5 319.0L151.6 320.3L151.7 322.0L151.7 323.7L151.8 324.5L151.9 324.6L151.9 326.2L152.0 326.7L152.0 328.4L152.1 327.8L152.1 328.4L152.2 328.2L152.3 328.8L152.3 327.8L152.4 327.1L152.5 326.6L152.5 326.0L152.6 324.7L152.6 323.4L152.7 322.6L152.7 322.7L152.8 322.6L152.8 322.5L152.9 321.5L153.0 319.9L153.0 318.4L153.1 317.3L153.2 317.3L153.7 316.6L154.4 316.5L154.9 316.9L155.0 317.0L155.2 317.9L155.3 319.1L155.4 319.5L155.5 319.8L155.6 320.2L155.7 321.5L155.8 322.6L155.9 322.8L156.0 323.4L156.1 323.0L156.2 323.1L156.3 321.9L156.4 321.3L156.5 320.6L156.5 319.9L156.6 319.5L156.7 318.8L156.9 317.8L157.0 316.6L157.1 316.3L157.2 315.9L157.3 316.0L157.5 315.2L157.6 315.5L157.7 314.5L157.9 313.1L158.0 311.4L158.1 311.2L158.3 311.8L158.4 311.8L158.5 311.0L158.7 310.3L158.8 308.8L158.9 307.8L159.0 306.2L159.2 306.1L159.3 306.1L159.4 305.7L159.5 305.0L159.6 303.8L159.7 303.1L159.8 302.4L160.0 302.5L160.1 302.3L160.3 301.9L160.6 301.1L160.9 300.7L161.2 299.8L161.6 299.6L161.9 298.9L162.3 298.7L162.7 297.6L163.0 297.2L163.2 296.7L163.4 296.3L163.7 296.2L163.9 295.4L164.1 294.1L164.3 293.3L164.6 293.1L164.8 293.3L165.0 292.6L165.2 291.8L165.5 291.0L165.7 289.7L166.0 289.2L166.2 288.5L166.5 288.2L166.8 287.4L167.0 286.8L167.3 286.7L167.6 286.4L167.9 286.4L168.1 286.1L168.4 285.9L168.7 284.3L169.0 283.4L169.4 282.7L169.7 282.8L170.0 282.5L170.3 281.8L170.7 281.0L171.1 280.3L171.4 280.1L171.7 279.7L172.0 279.2L172.3 278.9L172.6 278.5L172.9 278.2L173.3 277.5L173.6 276.7L173.9 275.7L174.2 275.6L174.5 275.0L174.8 274.9L175.0 273.6L175.4 272.3L175.8 270.9L176.1 270.5L176.4 270.0L176.7 270.3L177.0 269.8L177.5 269.4L178.0 269.0L178.5 268.4L179.0 268.0L179.5 268.2L180.0 268.6L180.5 269.3L181.0 268.9L181.5 269.8L182.0 270.7L182.5 270.5L183.0 270.5L183.5 270.7L184.0 272.1L184.5 271.9L185.0 271.8L185.4 271.9L185.9 272.3L186.3 271.3L186.7 270.2L187.2 268.9L187.6 269.0L188.0 267.6L188.7 268.2L189.3 268.4L189.9 270.4L190.5 270.1L191.1 270.4L191.7 270.3L192.3 271.1L193.0 271.0L193.3 271.7L193.5 271.4L193.8 270.1L194.2 269.0L194.5 268.2L194.8 268.7L195.1 268.2L195.5 267.2L195.8 266.1L196.1 265.6L196.4 265.1L196.7 264.7L197.0 263.6L197.5 263.5L198.0 263.3L198.5 263.3L199.0 262.3L199.5 261.4L200.0 261.0L200.5 261.0L201.0 261.0L201.6 260.4L202.2 259.9L202.8 259.2L203.4 259.8L204.0 259.6L204.6 259.7L205.2 259.4L205.8 258.9L206.5 257.9L207.2 256.6L207.8 257.0L208.4 257.7L209.0 258.2L209.5 257.9L210.0 258.1L210.5 258.1L211.0 259.2L211.5 259.7L212.0 260.8L212.5 261.6L213.0 261.6L213.6 261.4L214.2 261.3L214.8 262.1L215.4 262.3L216.0 261.8L216.7 261.5L217.3 262.1L218.0 262.3L218.6 262.9L219.2 263.7L219.8 264.1L220.4 263.9L221.0 264.2L221.6 264.0L222.2 264.8L222.8 264.6L223.4 264.6L224.0 264.5L224.7 264.6L225.3 264.7L225.9 263.4L226.5 262.2L227.1 262.7L227.7 262.8L228.3 263.2L229.0 262.0L229.5 262.2L230.1 261.7L230.7 262.3L231.3 262.8L231.9 263.3L232.5 263.3L233.2 263.4L233.8 263.6L234.3 264.0L234.9 264.0L235.4 264.0L236.1 264.4L236.7 265.3L237.3 265.6L237.9 265.6L238.4 264.7L239.1 264.7L239.8 265.3L240.3 265.6L240.7 266.0L241.2 266.1L241.8 266.2L242.3 266.6L242.8 266.8L243.4 267.4L244.0 267.2L244.5 267.4L245.1 267.3L245.8 267.8L246.4 268.3L246.8 268.8L247.3 269.2L247.7 269.3L248.2 269.6L248.7 269.7L249.2 270.4L249.7 270.8L250.2 271.6L250.7 271.9L251.2 272.4L251.7 272.7L252.2 273.3L252.7 273.7L253.2 274.2L253.7 274.6L254.2 274.7L254.7 275.0L255.2 275.0L255.8 275.4L256.4 275.6L257.0 275.9L257.6 276.2L258.2 276.4L258.8 276.4L259.4 276.3L260.0 276.3L260.6 276.5L261.2 276.8L261.8 277.1L262.4 277.3L262.9 277.2L263.5 277.3L264.0 277.3L264.7 277.6L265.3 277.7L266.0 277.6L266.6 277.8L267.1 277.8L267.7 277.9L268.3 277.8L268.9 277.9L269.4 278.2L270.0 278.3L270.6 278.3L271.1 278.7L271.7 278.9L272.2 279.1L272.7 279.2L273.2 279.3L273.8 279.7L274.3 280.0L274.8 280.5L275.4 280.9L276.0 281.3L276.6 281.7L277.2 282.0L277.7 282.3L278.3 282.3L278.8 282.5L279.4 282.6L280.0 282.9L280.6 283.3L281.2 283.7L281.8 283.8L282.4 283.9L283.0 283.9L283.6 284.2L284.2 284.5L284.8 284.5L285.4 284.7L286.0 284.9L286.6 285.3L287.2 285.5L287.8 285.6L288.4 285.9L289.0 286.2L289.6 286.3L290.2 286.4L290.8 286.4L291.4 286.7L292.0 286.8L292.6 286.9L293.2 287.1L293.7 287.2L294.3 287.2L294.8 287.2L295.5 287.5L296.1 287.7L296.7 287.7L297.3 287.7L297.8 287.7L298.4 288.0L298.9 287.8L299.5 287.8L300.1 288.0L300.7 288.0L301.4 288.0L302.0 288.0L302.6 288.0L303.2 288.0L303.8 288.0L304.5 287.9L305.1 287.9L305.8 287.9L306.5 287.8L307.1 287.8L307.7 287.8L308.4 287.7L308.9 287.7L309.5 287.6L310.0 287.6L310.8 287.5L311.5 287.5L312.1 287.5L312.7 287.4L313.3 287.4L313.8 287.3L314.4 287.2L315.0 287.0L315.5 286.8L316.0 286.7L316.5 286.5L317.0 286.3L317.5 286.0L318.0 285.8L318.6 285.5L319.3 285.1L320.0 284.7L320.4 284.5L320.8 284.2L321.3 284.0L321.8 283.7L322.3 283.5L322.8 283.2L323.3 282.9L323.8 282.6L324.4 282.3L324.9 282.0L325.5 281.7L326.0 281.4L326.6 281.0L327.2 280.6L327.7 280.2L328.2 279.8L328.8 279.4L329.3 279.0L329.7 278.6L330.1 278.3L330.5 277.9L331.0 277.5L331.4 277.0L331.8 276.6L332.2 276.2L332.7 275.7L333.1 275.2L333.5 274.8L334.0 274.3L334.4 273.8L334.8 273.3L335.2 272.9L335.6 272.4L336.0 271.9L336.4 271.4L336.8 271.0L337.2 270.5L337.6 270.1L337.9 269.6L338.3 269.2L338.6 268.8L339.1 268.2L339.5 267.7L339.9 267.1L340.3 266.6L340.7 266.1L341.1 265.6L341.4 265.0L341.8 264.5L342.1 264.0L342.4 263.5L342.7 263.0L343.0 262.5L343.3 262.0L343.6 261.5L343.9 261.0L344.2 260.5L344.5 259.9L344.8 259.4L345.1 258.8L345.3 258.2L345.6 257.7L345.9 257.1L346.1 256.5L346.4 256.0L346.6 255.4L346.8 254.8L347.0 254.3L347.3 253.7L347.5 253.2L347.7 252.6L347.9 252.1L348.2 251.5L348.4 250.9L348.6 250.3L348.9 249.7L349.1 249.2L349.3 248.6L349.5 248.1L349.7 247.5L349.9 246.9L350.1 246.2L350.4 245.5L350.6 244.8L350.7 244.3L350.9 243.8L351.0 243.2L351.2 242.7L351.4 242.1L351.5 241.5L351.7 240.9L351.8 240.3L352.0 239.7L352.1 239.1L352.3 238.5L352.4 237.8L352.6 237.2L352.7 236.6L352.9 235.9L353.1 235.3L353.2 234.7L353.4 234.1L353.5 233.5L353.6 232.9L353.8 232.4L353.9 231.8L354.0 231.3L354.2 230.8L354.3 230.2L354.4 229.7L354.5 229.2L354.7 228.7L354.8 228.1L354.9 227.6L355.1 227.0L355.2 226.4L355.3 225.8L355.5 225.2L355.7 224.5L355.8 223.8L356.0 223.1L356.2 222.3L356.3 221.8L356.4 221.3L356.6 220.8L356.7 220.3L356.8 219.8L357.0 219.2L357.1 218.7L357.3 218.1L357.4 217.5L357.6 216.9L357.7 216.3L357.9 215.7L358.1 215.1L358.2 214.5L358.4 213.9L358.5 213.3L358.7 212.6L358.9 212.0L359.0 211.4L359.2 210.7L359.4 210.1L359.5 209.5L359.7 208.9L359.8 208.2L360.0 207.6L360.1 207.0L360.3 206.4L360.4 205.8L360.6 205.2L360.7 204.7L360.8 204.1L361.0 203.5L361.1 203.0L361.2 202.4L361.4 201.7L361.5 201.1L361.7 200.5L361.8 199.8L361.9 199.2L362.1 198.6L362.2 198.0L362.3 197.4L362.4 196.8L362.6 196.3L362.7 195.7L362.8 195.1L362.9 194.5L363.0 193.9L363.1 193.4L363.2 192.8L363.4 192.2L363.5 191.6L363.6 191.1L363.7 190.5L363.8 189.9L363.9 189.3L364.0 188.8L364.1 188.2L364.2 187.6L364.3 187.0L364.4 186.4L364.5 185.8L364.6 185.2L364.7 184.6L364.8 184.0L364.9 183.4L365.0 182.8L365.1 182.1L365.2 181.5L365.3 180.9L365.3 180.3L365.4 179.7L365.5 179.1L365.6 178.5L365.7 177.8L365.8 177.2L365.9 176.6L366.0 176.0L366.0 175.4L366.1 174.8L366.2 174.3L366.3 173.7L366.4 173.1L366.5 172.5L366.5 172.0L366.6 171.4L366.7 170.9L366.8 170.2L366.9 169.5L367.0 168.8L367.1 168.2L367.2 167.5L367.4 166.8L367.5 166.2L367.6 165.5L367.7 164.9L367.8 164.3L367.9 163.6L368.0 163.0L368.1 162.4L368.2 161.8L368.3 161.2L368.4 160.7L368.5 160.1L368.6 159.6L368.6 159.0L368.7 158.5L368.8 158.0L368.9 157.3L369.0 156.7L369.1 156.2L369.2 155.7L369.3 155.3L369.3 155.0L369.4 154.5L369.5 154.1L369.5 153.6L369.6 152.9L369.7 152.1L369.8 151.2L369.9 150.0L369.9 149.6L370.0 149.2L370.0 148.7L370.0 148.3L370.1 147.8L370.1 147.3L370.2 146.9L370.2 146.3L370.2 145.8L370.3 145.3L370.3 144.8L370.4 144.2L370.4 143.7L370.5 143.1L370.5 142.5L370.5 141.9L370.6 141.3L370.6 140.7L370.7 140.1L370.7 139.5L370.8 138.9L370.8 138.2L370.9 137.6L370.9 136.9L371.0 136.3L371.0 135.6L371.1 134.9L371.1 134.2L371.2 133.6L371.2 132.9L371.3 132.2L371.3 131.5L371.4 130.8L371.4 130.1L371.5 129.3L371.5 128.6L371.6 127.9L371.6 127.2L371.7 126.5L371.7 125.7L371.8 125.0L371.8 124.5L371.9 124.0L371.9 123.4L372.0 122.9L372.0 122.3L372.1 121.8L372.1 121.2L372.1 120.7L372.2 120.1L372.2 119.5L372.3 118.9L372.3 118.3L372.4 117.8L372.4 117.2L372.5 116.6L372.5 116.0L372.6 115.4L372.6 114.7L372.7 114.1L372.7 113.5L372.8 112.9L372.8 112.3L372.9 111.7L372.9 111.0L373.0 110.4L373.0 109.8L373.1 109.1L373.1 108.5L373.2 107.9L373.2 107.2L373.3 106.6L373.3 106.0L373.4 105.3L373.4 104.7L373.5 104.1L373.5 103.4L373.6 102.8L373.6 102.2L373.7 101.5L373.7 100.9L373.8 100.3L373.8 99.6L373.9 99.0L373.9 98.4L374.0 97.8L374.0 97.2L374.1 96.5L374.1 95.9L374.2 95.3L374.2 94.7L374.3 94.1L374.3 93.5L374.4 92.9L374.4 92.3L374.5 91.7L374.5 91.1L374.6 90.6L374.6 90.0L374.7 89.4L374.7 88.7L374.8 88.1L374.8 87.4L374.9 86.8L374.9 86.2L375.0 85.5L375.0 84.9L375.1 84.3L375.1 83.7L375.2 83.0L375.3 82.4L375.3 81.8L375.4 81.2L375.4 80.6L375.5 80.0L375.5 79.4L375.6 78.8L375.7 78.2L375.7 77.6L375.8 77.0L375.8 76.3L375.9 75.7L375.9 75.1L376.0 74.5L376.0 74.0L376.1 73.4L376.1 72.8L376.2 72.2L376.3 71.6L376.3 71.0L376.4 70.4L376.4 69.8L376.5 69.2L376.5 68.6L376.6 68.0L376.6 67.4L376.7 66.8L376.7 66.2L376.7 65.6L376.8 65.0L376.8 64.4L376.9 63.8L376.9 63.2L377.0 62.6L377.0 62.0L377.0 61.4L377.1 60.8L377.1 60.2L377.2 59.6L377.2 59.0L377.2 58.4L377.3 57.8L377.3 57.2L377.3 56.6L377.4 56.0L377.4 55.4L377.4 54.7L377.4 54.1L377.5 53.5L377.5 52.9L377.5 52.3L377.5 51.7L377.6 51.1L377.6 50.5L377.6 49.9L377.6 49.3L377.7 48.7L377.7 48.1L377.7 47.5L377.7 46.8L377.7 46.2L377.7 45.6L377.8 45.0L377.8 44.4L377.8 43.8L377.8 43.2L377.8 42.6L377.8 42.0L377.9 41.4L377.9 40.8L377.9 40.2L377.9 39.5L377.9 38.9L377.9 38.3L377.9 37.7L378.0 37.1L378.0 36.5L378.0 35.9L378.0 35.3L378.0 34.7L378.0 34.1L378.0 33.5L378.1 32.9L378.1 32.3L378.1 31.6L378.1 31.0L378.1 30.4L378.1 29.8L378.2 29.2L378.2 28.6L378.2 28.0L385.6 28.0L385.6 28.6L385.7 29.2L385.7 29.8L385.7 30.4L385.8 31.1L385.8 31.7L385.8 32.3L385.8 32.9L385.9 33.5L385.9 34.2L385.9 34.8L386.0 35.4L386.0 36.0L386.0 36.6L386.1 37.2L386.1 37.9L386.1 38.5L386.1 39.1L386.2 39.7L386.2 40.3L386.2 40.9L386.3 41.5L386.3 42.1L386.4 42.7L386.4 43.3L386.4 43.8L386.5 44.4L386.5 45.0L386.5 45.6L386.6 46.3L386.6 46.9L386.7 47.5L386.7 48.0L386.8 48.6L386.8 49.2L386.9 49.8L386.9 50.3L387.0 50.9L387.0 51.5L387.1 52.0L387.1 52.6L387.2 53.2L387.2 53.7L387.3 54.3L387.3 54.9L387.4 55.5L387.4 56.1L387.5 56.7L387.5 57.3L387.6 58.0L387.7 58.6L387.7 59.3L387.8 60.0L387.9 60.5L387.9 61.1L388.0 61.7L388.0 62.2L388.1 62.8L388.1 63.4L388.2 64.1L388.2 64.7L388.3 65.3L388.4 65.9L388.4 66.6L388.5 67.2L388.6 67.9L388.6 68.5L388.7 69.2L388.7 69.9L388.8 70.5L388.9 71.2L388.9 71.8L389.0 72.5L389.1 73.1L389.1 73.7L389.2 74.4L389.3 75.0L389.3 75.6L389.4 76.2L389.4 76.8L389.5 77.4L389.6 77.9L389.6 78.5L389.7 79.0L389.7 79.5L389.8 80.0L389.9 80.8L390.0 81.6L390.1 82.3L390.1 83.1L390.2 83.8L390.3 84.5L390.4 85.1L390.5 85.8L390.5 86.4L390.6 87.1L390.7 87.7L390.8 88.2L390.9 88.8L390.9 89.3L391.0 89.8L391.1 90.3L391.2 90.8L391.3 91.2L391.4 91.6L391.5 92.0L391.9 92.7L392.3 92.5L392.8 92.1L393.3 92.0L393.7 92.8L394.0 95.0L394.0 95.3L394.1 95.7L394.1 96.0L394.1 96.4L394.1 96.7L394.2 97.1L394.2 97.5L394.2 97.9L394.2 98.3L394.2 98.7L394.3 99.1L394.3 99.6L394.3 100.0L394.3 100.5L394.3 100.9L394.4 101.4L394.4 101.9L394.4 102.3L394.4 102.8L394.4 103.3L394.4 103.9L394.4 104.4L394.5 104.9L394.5 105.5L394.5 106.0L394.5 106.6L394.5 107.1L394.5 107.7L394.5 108.3L394.5 108.9L394.5 109.5L394.6 110.1L394.6 110.8L394.6 111.4L394.6 112.1L394.6 112.7L394.6 113.4L394.6 114.1L394.6 114.8L394.6 115.5L394.6 116.2L394.6 116.9L394.7 117.7L394.7 118.4L394.7 119.2L394.7 119.9L394.7 120.7L394.7 121.5L394.7 122.3L394.7 123.1L394.7 123.9L394.7 124.8L394.7 125.6L394.8 126.5L394.8 127.3L394.8 128.2L394.8 129.1L394.8 130.0L394.8 130.5L394.8 130.9L394.8 131.4L394.8 131.8L394.8 132.3L394.8 132.7L394.8 133.2L394.8 133.6L394.8 134.1L394.9 134.6L394.9 135.0L394.9 135.5L394.9 136.0L394.9 136.4L394.9 136.9L394.9 137.4L394.9 137.8L394.9 138.3L394.9 138.8L394.9 139.3L394.9 139.7L394.9 140.2L394.9 140.7L394.9 141.2L394.9 141.7L394.9 142.2L394.9 142.6L394.9 143.1L394.9 143.6L395.0 144.1L395.0 144.6L395.0 145.1L395.0 145.6L395.0 146.1L395.0 146.6L395.0 147.1L395.0 147.7L395.0 148.2L395.0 148.7L395.0 149.2L395.0 149.7L395.0 150.3L395.0 150.8L395.0 151.3L395.0 151.8L395.0 152.4L395.0 152.9L395.0 153.5L395.0 154.0L395.0 154.6L395.0 155.1L395.1 155.7L395.1 156.2L395.1 156.8L395.1 157.3L395.1 157.9L395.1 158.5L395.1 159.1L395.1 159.6L395.1 160.2L395.1 160.8L395.1 161.4L395.1 162.0L395.1 162.6L395.1 163.2L395.1 163.8L395.1 164.4L395.1 165.0L395.1 165.6L395.1 166.2L395.1 166.9L395.1 167.5L395.1 168.1L395.1 168.8L395.1 169.4L395.1 170.1L395.2 170.7L395.2 171.4L395.2 172.0L395.2 172.7L395.2 173.4L395.2 174.0L395.2 174.7L395.2 175.4L395.2 176.1L395.2 176.8L395.2 177.5L395.2 178.2L395.2 178.9L395.2 179.6L395.2 180.3L395.2 181.0L395.2 181.7L395.2 182.5L395.2 183.2L395.2 184.0L395.2 184.7L395.2 185.5L395.2 186.2L395.2 187.0L395.2 187.8L395.2 188.5L395.3 189.3L395.3 190.1L395.3 190.9L395.3 191.7L395.3 192.5L395.3 193.3L395.3 194.1L395.3 194.9L395.3 195.8L395.3 196.6L395.3 197.4L395.3 198.3L395.3 199.1L395.3 200.0L395.3 200.5L395.3 200.9L395.3 201.4L395.3 201.9L395.3 202.4L395.3 202.8L395.3 203.3L395.3 203.8L395.3 204.3L395.3 204.8L395.3 205.3L395.3 205.8L395.3 206.3L395.3 206.8L395.3 207.3L395.3 207.9L395.3 208.4L395.3 208.9L395.3 209.4L395.3 210.0L395.3 210.5L395.3 211.0L395.3 211.6L395.3 212.1L395.3 212.7L395.4 213.2L395.4 213.8L395.4 214.3L395.4 214.9L395.4 215.4L395.4 216.0L395.4 216.5L395.4 217.1L395.4 217.7L395.4 218.3L395.4 218.8L395.4 219.4L395.4 220.0L395.4 220.6L395.4 221.1L395.4 221.7L395.4 222.3L395.4 222.9L395.4 223.5L395.4 224.1L395.4 224.7L395.4 225.3L395.4 225.9L395.4 226.5L395.4 227.1L395.4 227.7L395.4 228.3L395.4 228.9L395.4 229.6L395.4 230.2L395.4 230.8L395.4 231.4L395.4 232.0L395.4 232.7L395.4 233.3L395.4 233.9L395.4 234.5L395.4 235.2L395.4 235.8L395.4 236.4L395.4 237.1L395.4 237.7L395.4 238.3L395.4 239.0L395.4 239.6L395.4 240.3L395.4 240.9L395.4 241.6L395.4 242.2L395.4 242.9L395.4 243.5L395.4 244.2L395.4 244.8L395.4 245.5L395.4 246.1L395.4 246.8L395.5 247.4L395.5 248.1L395.5 248.7L395.5 249.4L395.5 250.0L395.5 250.7L395.5 251.4L395.5 252.0L395.5 252.7L395.5 253.3L395.5 254.0L395.5 254.7L395.5 255.3L395.5 256.0L395.5 256.7L395.5 257.3L395.5 258.0L395.5 258.7L395.5 259.3L395.5 260.0L395.5 260.7L395.5 261.3L395.5 262.0L395.5 262.7L395.5 263.3L395.5 264.0L395.5 264.7L395.5 265.3L395.5 266.0L395.5 266.7L395.5 267.3L395.5 268.0L395.5 268.7L395.5 269.3L395.5 270.0L395.5 270.7L395.5 271.3L395.5 272.0L395.5 272.7L395.5 273.3L395.5 274.0L395.5 274.7L395.5 275.3L395.5 276.0L395.5 276.7L395.5 277.3L395.5 278.0L395.5 278.7L395.5 279.3L395.5 280.0L395.5 280.6L395.5 281.3L395.5 282.0L395.5 282.6L395.5 283.3L395.5 283.9L395.5 284.6L395.5 285.2L395.5 285.9L395.6 286.5L395.6 287.2L395.6 287.8L395.6 288.5L395.6 289.1L395.6 289.8L395.6 290.4L395.6 291.1L395.6 291.7L395.6 292.4L395.6 293.0L395.6 293.6L395.6 294.3L395.6 294.9L395.6 295.5L395.6 296.2L395.6 296.8L395.6 297.4L395.6 298.1L395.6 298.7L395.6 299.3L395.6 299.9L395.6 300.6L395.6 301.2L395.6 301.8L395.6 302.4L395.6 303.0L395.6 303.6L395.6 304.2L395.6 304.9L395.6 305.5L395.6 306.1L395.6 306.7L395.6 307.3L395.6 307.9L395.6 308.5L395.6 309.0L395.6 309.6L395.6 310.2L395.6 310.8L395.6 311.4L395.6 312.0L395.6 312.5L395.6 313.1L395.6 313.7L395.6 314.3L395.6 314.8L395.6 315.4L395.6 316.0L395.6 316.5L395.6 317.1L395.6 317.6L395.6 318.2L395.7 318.7L395.7 319.3L395.7 319.8L395.7 320.4L395.7 320.9L395.7 321.4L395.7 322.0L395.7 322.5L395.7 323.0L395.7 323.5L395.7 324.0L395.7 324.6L395.7 325.1L395.7 325.6L395.7 326.1L395.7 326.6L395.7 327.1L395.7 327.6L395.7 328.1L395.7 328.6L395.7 329.0L395.7 329.5L395.7 330.0L395.7 330.8L395.7 331.6L395.7 332.4L395.7 333.2L395.7 334.0L395.7 334.8L395.7 335.6L395.7 336.4L395.7 337.1L395.7 337.9L395.7 338.6L395.7 339.4L395.8 340.1L395.8 340.8L395.8 341.6L395.8 342.3L395.8 343.0L395.8 343.7L395.8 344.4L395.8 345.1L395.8 345.8L395.8 346.5L395.8 347.2L395.8 347.9L395.8 348.6L395.8 349.2L395.8 349.9L395.8 350.6L395.8 351.2L395.8 351.9L395.8 352.5L395.8 353.2L395.8 353.8L395.8 354.4L395.9 355.1L395.9 355.7L395.9 356.3L395.9 356.9L395.9 357.5L395.9 358.1L395.9 358.7L395.9 359.4L395.9 360.0L395.9 360.5L395.9 361.1L395.9 361.7L395.9 362.3L395.9 362.9L395.9 363.5L395.9 364.1L395.9 364.6L395.9 365.2L395.9 365.8L395.9 366.3L396.0 366.9L396.0 367.5L396.0 368.0L396.0 368.6L396.0 369.1L396.0 369.7L396.0 370.2L396.0 370.8L396.0 371.3L396.0 371.9L396.0 372.4L396.0 373.0L396.0 373.5L396.0 374.1L396.0 374.6L396.0 375.1L396.0 375.7L396.0 376.2L396.0 376.7L396.0 377.3L396.1 377.8L396.1 378.3L396.1 378.9L396.1 379.4L396.1 379.9L396.1 380.5L396.1 381.0L396.1 381.5L396.1 382.0L396.1 382.6L396.1 383.1L396.1 383.6L396.1 384.2L396.1 384.7L396.1 385.2L396.1 385.8L396.1 386.3L396.1 386.8L396.1 387.4L396.1 387.9L396.2 388.4L396.2 389.0L396.2 389.5L396.2 390.0L396.2 390.6L396.2 391.1L396.2 391.7L396.2 392.2L396.2 392.7L396.2 393.3L396.2 393.8L396.2 394.4L396.2 394.9L396.2 395.5L396.2 396.1L396.2 396.6L396.2 397.2L396.2 397.7L396.2 398.3L396.2 398.9L396.3 399.4L396.3 400.0L396.3 400.6L396.3 401.2L396.3 401.7L396.3 402.3L396.3 402.9L396.3 403.5L396.3 404.1L396.3 404.7L396.3 405.3" stroke="#56a543" stroke-width="3.0" fill="none" stroke-linejoin="round"/>
<path d="M384.3 28.0L384.3 28.6L384.4 29.2L384.4 29.8L384.4 30.4L384.5 31.1L384.5 31.7L384.5 32.3L384.5 32.9L384.6 33.5L384.6 34.2L384.6 34.8L384.7 35.4L384.7 36.0L384.7 36.6L384.8 37.2L384.8 37.9L384.8 38.5L384.8 39.1L384.9 39.7L384.9 40.3L384.9 40.9L385.0 41.5L385.0 42.1L385.1 42.7L385.1 43.3L385.1 43.8L385.2 44.4L385.2 45.0L385.2 45.6L385.3 46.3L385.3 46.9L385.4 47.5L385.4 48.0L385.5 48.6L385.5 49.2L385.6 49.8L385.6 50.3L385.7 50.9L385.7 51.5L385.8 52.0L385.8 52.6L385.9 53.2L385.9 53.7L386.0 54.3L386.0 54.9L386.1 55.5L386.1 56.1L386.2 56.7L386.2 57.3L386.3 58.0L386.4 58.6L386.4 59.3L386.5 60.0L386.6 60.5L386.6 61.1L386.7 61.7L386.7 62.2L386.8 62.8L386.8 63.4L386.9 64.1L386.9 64.7L387.0 65.3L387.1 65.9L387.1 66.6L387.2 67.2L387.3 67.9L387.3 68.5L387.4 69.2L387.4 69.9L387.5 70.5L387.6 71.2L387.6 71.8L387.7 72.5L387.8 73.1L387.8 73.7L387.9 74.4L388.0 75.0L388.0 75.6L388.1 76.2L388.1 76.8L388.2 77.4L388.3 77.9L388.3 78.5L388.4 79.0L388.4 79.5L388.5 80.0L388.6 80.8L388.7 81.6L388.8 82.3L388.8 83.0L388.9 83.8L389.0 84.5L389.1 85.1L389.1 85.8L389.2 86.4L389.3 87.0L389.4 87.6L389.5 88.2L389.5 88.7L389.6 89.3L389.7 89.8L389.8 90.3L389.9 90.7L390.0 91.2L390.1 91.6L390.2 92.0L390.5 92.9L390.9 93.6L391.3 94.1L391.7 94.4L392.2 94.7L392.6 95.1L393.0 95.5" stroke="#56a543" stroke-width="3.0" fill="none" stroke-linejoin="round"/>
<path d="M420.2 406 L420.5 300 L421.5 260 L421.9 186.5 L423.2 185 L424.6 186.5 L424.6 232.5 L428.4 232.5 L428.6 244 L428.9 278 L429.6 278 L430.1 244 L430.5 238 L435.3 238 L435.8 260 L436.3 406 L431.8 406 L431.6 381.5 L431.0 381.5 L430.9 400.5 L430.2 402 L428.3 402 L427.6 400.5 L427.4 369 L425.2 369 L424.8 406 Z" fill="#56a543"/>
<path d="M423.6 268 L423.8 330" stroke="#2f2680" stroke-width="1.1" fill="none"/>
<path d="M424.6 274 L424.9 330" stroke="#7a3f3f" stroke-width="1.3" fill="none"/>
<path d="M425.2 330 L425.4 369" stroke="#c92408" stroke-width="1.4" fill="none"/>
<path d="M425.0 369 L425.1 406" stroke="#000000" stroke-width="1.2" fill="none"/>
<path d="M432.3 279 L432.4 360" stroke="#2f2680" stroke-width="1.0" fill="none"/>
<path d="M431.8 381 L432.2 406" stroke="#c92408" stroke-width="1.2" fill="none"/>
<path d="M425.6 360 L426.5 330" stroke="#21955a" stroke-width="1.0" fill="none"/>
<path d="M418.9 378 L419.2 392" stroke="#c92408" stroke-width="1.2" fill="none"/>
<path d="M147.0 323.5 L150.0 320.0 L152.4 318.0 L154.6 317.0 L157.0 311.0 L159.0 301.5 L160.7 298.5 L162.0 300.8 L163.4 294.0 L165.0 292.5 L166.3 286.5 L168.5 280.5 L171.0 276.7 L173.0 274.5 L175.0 272.5 L178.0 270.3 L180.0 269.5 L180.0 270.0 L178.0 271.0 L176.5 273.4 L174.5 278.4 L172.4 282.9 L170.7 286.4 L169.0 289.6 L167.5 292.6 L165.7 296.4 L163.6 303.2 L162.3 309.9 L160.3 316.6 L158.2 322.1 L156.2 323.6 L155.0 324.6 L154.2 329.1 L153.2 330.6 L152.3 329.6 L151.5 324.2 L150.0 325.2 L148.1 326.2 L147.0 325.5 Z" fill="#56a543" stroke="#56a543" stroke-width="0.8" stroke-linejoin="round"/>
<path d="M414.50 407 L414.50 370.50 A1.90 1.90 0 0 1 418.30 370.50 L418.30 407 Z" fill="#56a543"/>
<path d="M448.80 407 L448.80 370.60 A0.60 0.60 0 0 1 450.00 370.60 L450.00 407 Z" fill="#56a543"/>
<path d="M453.60 407 L453.60 368.70 A1.90 1.90 0 0 1 457.40 368.70 L457.40 407 Z" fill="#56a543"/>
<path d="M462.50 407 L462.50 345.80 A2.30 2.30 0 0 1 467.10 345.80 L467.10 407 Z" fill="#56a543"/>
<path d="M470.80 407 L470.80 377.10 A2.30 2.30 0 0 1 475.40 377.10 L475.40 407 Z" fill="#56a543"/>
<path d="M484.75 407 L484.75 402.75 A1.25 1.25 0 0 1 487.25 402.75 L487.25 407 Z" fill="#56a543"/>
<path d="M487.40 407 L487.40 392.10 A1.20 1.20 0 0 1 489.80 392.10 L489.80 407 Z" fill="#56a543"/>
<path d="M490.30 407 L490.30 403.90 A1.10 1.10 0 0 1 492.50 403.90 L492.50 407 Z" fill="#56a543"/>
<path d="M492.40 407 L492.40 400.30 A1.50 1.50 0 0 1 495.40 400.30 L495.40 407 Z" fill="#56a543"/>
<path d="M510.30 407 L510.30 384.60 A1.40 1.40 0 0 1 513.10 384.60 L513.10 407 Z" fill="#56a543"/>
<path d="M549.10 407 L549.10 392.50 A1.50 1.50 0 0 1 552.10 392.50 L552.10 407 Z" fill="#56a543"/>

<path d="M424.6 233 L424.6 211.5 L425.6 211 L426 215 L428 215.8 L428.3 233 L428.4 245 L427.4 245 L427.3 233 Z" fill="#2f2680"/><path d="M430.3 254 L430.4 230 L431.5 226 L433.5 226 L434.8 232 L434.9 238 L431.8 238 L431.8 254 Z" fill="#2f2680"/>
</g>
<line x1="94.7" y1="317.4" x2="446.3" y2="314.0" stroke="#c91b12" stroke-width="2.5" stroke-dasharray="12.2 12"/>
<rect x="93.5" y="29.3" width="471.8" height="376.9" fill="none" stroke="#000" stroke-width="2.6"/>
<g font-size="19.5"><text x="93.5" y="429.6" text-anchor="middle">200</text><text x="211.4" y="429.6" text-anchor="middle">250</text><text x="329.4" y="429.6" text-anchor="middle">300</text><text x="447.4" y="429.6" text-anchor="middle">350</text><text x="565.3" y="429.6" text-anchor="middle">400</text><text x="83.4" y="411.3" text-anchor="end">0</text><text x="83.4" y="335.9" text-anchor="end">200</text><text x="83.4" y="260.5" text-anchor="end">400</text><text x="83.4" y="185.2" text-anchor="end">600</text><text x="83.4" y="109.8" text-anchor="end">800</text><text x="83.4" y="34.4" text-anchor="end">1000</text></g>
<text x="0" y="0" font-size="20" transform="translate(35.2 260.5) rotate(-90)"><tspan font-style="italic">E</tspan> (kV/cm)</text>
<text x="308.5" y="455" font-size="20"><tspan font-style="italic">t</tspan> (ns)</text>
<rect x="103.2" y="199.1" width="104.5" height="31.6" fill="#5eafaa"/>
<text x="110.3" y="219.5" font-size="19">240</text><text x="143.4" y="219.5" font-size="19" textLength="57" lengthAdjust="spacingAndGlyphs">kV/cm</text>
<line x1="150.5" y1="234.3" x2="181.2" y2="299.2" stroke="#c9230f" stroke-width="2.7"/><path d="M178.2 301.9 L185.9 309.3 L184.9 298.2 Z" fill="#c9230f" stroke="#c9230f" stroke-width="0.4" stroke-linejoin="round"/>
<line x1="93.8" y1="486.3" x2="127.6" y2="486.3" stroke="#000000" stroke-width="3.0" stroke-linecap="round"/><text x="0.0" y="0.0" font-size="19.5" transform="translate(142.0 494.4) scale(0.94 1) translate(0.0 0.0)">A</text><text x="155.8" y="501.6" font-size="11.5">i1</text><line x1="93.8" y1="517.8" x2="127.6" y2="517.8" stroke="#c92408" stroke-width="2.4" stroke-linecap="round"/><text x="0.0" y="0.0" font-size="19.5" transform="translate(142.0 525.9) scale(0.94 1) translate(0.0 0.0)">A</text><text x="155.8" y="533.1" font-size="11.5">i5</text><line x1="93.8" y1="551.6" x2="127.6" y2="551.6" stroke="#21955a" stroke-width="2.4" stroke-linecap="round"/><text x="0.0" y="0.0" font-size="19.5" transform="translate(142.0 559.7) scale(0.94 1) translate(0.0 0.0)">A</text><text x="155.8" y="566.9" font-size="11.5">i9</text><line x1="341.2" y1="487.4" x2="374.6" y2="487.4" stroke="#7a3f3f" stroke-width="2.4" stroke-linecap="round"/><text x="0.0" y="0.0" font-size="19.5" transform="translate(389.6 495.5) scale(0.94 1) translate(0.0 0.0)">A</text><text x="403.4" y="502.7" font-size="11.5">i13</text><line x1="341.2" y1="518.5" x2="374.6" y2="518.5" stroke="#2f2680" stroke-width="2.4" stroke-linecap="round"/><text x="0.0" y="0.0" font-size="19.5" transform="translate(389.6 526.6) scale(0.94 1) translate(0.0 0.0)">A</text><text x="403.4" y="533.8" font-size="11.5">i16</text><line x1="341.2" y1="552.3" x2="374.6" y2="552.3" stroke="#56a543" stroke-width="2.4" stroke-linecap="round"/><text x="0.0" y="0.0" font-size="19.5" transform="translate(389.6 560.4) scale(0.94 1) translate(0.0 0.0)">A</text><text x="403.4" y="566.8" font-size="11.5">g2</text>
</svg>
</body></html>
